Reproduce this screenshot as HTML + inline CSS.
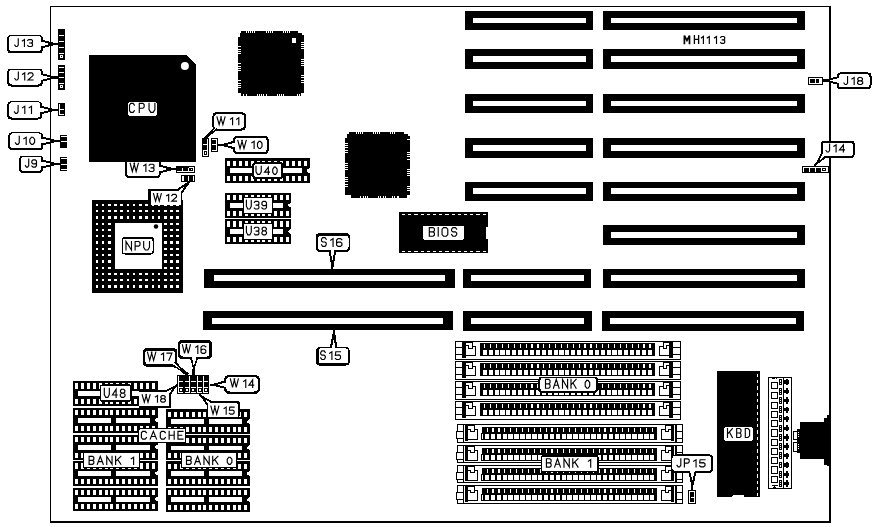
<!DOCTYPE html>
<html><head><meta charset="utf-8"><title>MH1113</title>
<style>html,body{margin:0;padding:0;background:#fff;}svg{display:block;}</style></head>
<body>
<svg width="878" height="527" viewBox="0 0 878 527" shape-rendering="crispEdges">
<rect x="0.00" y="0.00" width="878.00" height="527.00" fill="#fff" />
<rect x="50.00" y="6.00" width="781.00" height="1.00" fill="#000" />
<rect x="50.00" y="6.00" width="1.00" height="517.00" fill="#000" />
<rect x="829.00" y="6.00" width="2.00" height="517.00" fill="#000" />
<rect x="50.00" y="521.00" width="781.00" height="2.00" fill="#000" />
<rect x="465.00" y="11.00" width="128.00" height="19.00" fill="#000" />
<rect x="473.00" y="18.00" width="113.00" height="5.00" fill="#fff" />
<rect x="602.50" y="11.00" width="202.00" height="19.00" fill="#000" />
<rect x="610.50" y="18.00" width="186.50" height="5.00" fill="#fff" />
<rect x="465.00" y="49.00" width="128.00" height="19.50" fill="#000" />
<rect x="473.00" y="55.50" width="113.00" height="6.50" fill="#fff" />
<rect x="602.50" y="49.00" width="202.00" height="19.50" fill="#000" />
<rect x="610.50" y="55.50" width="186.50" height="6.50" fill="#fff" />
<rect x="465.00" y="94.00" width="128.00" height="18.50" fill="#000" />
<rect x="473.00" y="100.50" width="113.00" height="5.50" fill="#fff" />
<rect x="602.50" y="94.00" width="202.00" height="18.50" fill="#000" />
<rect x="610.50" y="100.50" width="186.50" height="5.50" fill="#fff" />
<rect x="465.00" y="138.00" width="128.00" height="19.50" fill="#000" />
<rect x="473.00" y="145.00" width="113.00" height="6.00" fill="#fff" />
<rect x="602.50" y="138.00" width="202.00" height="19.50" fill="#000" />
<rect x="610.50" y="145.00" width="186.50" height="6.00" fill="#fff" />
<rect x="465.00" y="182.00" width="128.00" height="18.50" fill="#000" />
<rect x="473.00" y="188.00" width="113.00" height="6.00" fill="#fff" />
<rect x="602.50" y="182.00" width="202.00" height="18.50" fill="#000" />
<rect x="610.50" y="188.00" width="186.50" height="6.00" fill="#fff" />
<rect x="602.50" y="225.00" width="202.00" height="19.50" fill="#000" />
<rect x="610.50" y="231.50" width="186.50" height="6.00" fill="#fff" />
<rect x="204.00" y="269.00" width="251.00" height="18.50" fill="#000" />
<rect x="214.00" y="275.00" width="231.00" height="6.00" fill="#fff" />
<rect x="463.00" y="269.00" width="127.50" height="18.50" fill="#000" />
<rect x="471.00" y="275.00" width="112.50" height="6.00" fill="#fff" />
<rect x="602.50" y="269.00" width="202.00" height="18.50" fill="#000" />
<rect x="610.50" y="275.00" width="186.50" height="6.00" fill="#fff" />
<rect x="203.00" y="311.00" width="250.00" height="19.00" fill="#000" />
<rect x="212.00" y="318.00" width="231.00" height="6.00" fill="#fff" />
<rect x="463.00" y="311.00" width="128.50" height="20.00" fill="#000" />
<rect x="471.00" y="318.00" width="112.50" height="6.00" fill="#fff" />
<rect x="601.50" y="311.00" width="202.00" height="20.00" fill="#000" />
<rect x="609.50" y="318.00" width="186.50" height="6.00" fill="#fff" />
<rect x="125.20" y="158.00" width="35.50" height="20.20" rx="4" ry="4" fill="#000"/>
<polygon points="158.00,173.30 160.00,173.30 172.38,170.05 176.50,170.05 176.50,167.95 172.38,167.95 160.00,164.70 158.00,164.70" fill="#000" />
<rect x="127.20" y="160.00" width="31.50" height="16.20" rx="2.5" ry="2.5" fill="#fff"/>
<polygon points="157.00,171.20 160.50,171.20 168.25,169.00 160.50,166.80 157.00,166.80" fill="#fff" />
<path d="M130.20 163.30 L132.36 171.50 L134.53 163.30 M133.99 163.30 L136.15 171.50 L138.31 163.30 M143.72 165.68 L145.89 164.22 L145.89 171.50 M149.13 165.13 L150.21 164.22 L152.92 164.22 L154.00 165.13 L154.00 166.95 L152.92 167.86 L151.08 167.86 M152.92 167.86 L154.00 168.77 L154.00 170.59 L152.92 171.50 L150.21 171.50 L149.13 170.59" fill="none" stroke="#000" stroke-width="1.15" stroke-linecap="square" stroke-linejoin="miter" shape-rendering="geometricPrecision"/>
<rect x="176.30" y="166.00" width="18.40" height="6.50" fill="#000" />
<rect x="177.00" y="170.60" width="17.20" height="1.00" fill="#fff" />
<rect x="181.80" y="167.50" width="1.00" height="3.50" fill="#fff" />
<rect x="188.00" y="167.50" width="1.00" height="3.50" fill="#fff" />
<rect x="189.00" y="167.30" width="5.20" height="1.00" fill="#fff" />
<rect x="193.20" y="167.30" width="1.00" height="4.30" fill="#fff" />
<rect x="190.70" y="169.00" width="1.20" height="1.10" fill="#fff" />
<rect x="181.00" y="175.00" width="14.00" height="7.00" fill="#000" />
<rect x="182.20" y="176.30" width="1.40" height="4.30" fill="#fff" />
<rect x="187.50" y="176.30" width="1.40" height="4.30" fill="#fff" />
<rect x="192.70" y="176.30" width="1.40" height="4.30" fill="#fff" />
<polygon points="89.00,55.00 186.00,55.00 195.50,64.50 195.50,161.50 89.00,161.50" fill="#000" />
<circle cx="184.9" cy="65.9" r="4" fill="#fff" shape-rendering="geometricPrecision"/>
<rect x="128" y="101.8" width="29" height="14" rx="2.5" fill="#fff"/>
<path d="M134.38 105.09 L133.16 103.40 L130.72 103.40 L129.50 105.09 L129.50 110.71 L130.72 112.40 L133.16 112.40 L134.38 110.71 M139.27 112.40 L139.27 103.40 L142.93 103.40 L144.15 104.53 L144.15 107.11 L142.93 108.24 L139.27 108.24 M149.04 103.40 L149.04 109.59 L150.75 112.40 L153.19 112.40 L154.90 109.59 L154.90 103.40" fill="none" stroke="#000" stroke-width="1.15" stroke-linecap="square" stroke-linejoin="miter" shape-rendering="geometricPrecision"/>
<polygon points="241.00,30.70 298.20,30.70 298.20,32.95 301.80,32.95 301.80,35.20 304.20,35.20 304.20,93.20 301.20,93.20 301.20,96.20 241.00,96.20 241.00,93.20 238.00,93.20 238.00,36.70 239.50,36.70 239.50,33.10 241.00,33.10" fill="#000" />
<rect x="245.55" y="30.70" width="1.00" height="2.00" fill="#fff" />
<rect x="247.77" y="30.70" width="1.00" height="2.00" fill="#fff" />
<rect x="249.99" y="30.70" width="1.00" height="2.00" fill="#fff" />
<rect x="252.21" y="30.70" width="1.00" height="2.00" fill="#fff" />
<rect x="254.43" y="30.70" width="1.00" height="2.00" fill="#fff" />
<rect x="265.82" y="30.70" width="1.00" height="2.00" fill="#fff" />
<rect x="268.19" y="30.70" width="1.00" height="2.00" fill="#fff" />
<rect x="270.26" y="30.70" width="1.00" height="2.00" fill="#fff" />
<rect x="272.18" y="30.70" width="1.00" height="2.00" fill="#fff" />
<rect x="282.54" y="30.70" width="1.00" height="2.00" fill="#fff" />
<rect x="284.75" y="30.70" width="1.00" height="2.00" fill="#fff" />
<rect x="286.97" y="30.70" width="1.00" height="2.00" fill="#fff" />
<rect x="289.19" y="30.70" width="1.00" height="2.00" fill="#fff" />
<rect x="243.33" y="94.20" width="1.00" height="2.00" fill="#fff" />
<rect x="245.55" y="94.20" width="1.00" height="2.00" fill="#fff" />
<rect x="256.65" y="94.20" width="1.00" height="2.00" fill="#fff" />
<rect x="258.87" y="94.20" width="1.00" height="2.00" fill="#fff" />
<rect x="261.09" y="94.20" width="1.00" height="2.00" fill="#fff" />
<rect x="263.30" y="94.20" width="1.00" height="2.00" fill="#fff" />
<rect x="265.82" y="94.20" width="1.00" height="2.00" fill="#fff" />
<rect x="276.62" y="94.20" width="1.00" height="2.00" fill="#fff" />
<rect x="278.84" y="94.20" width="1.00" height="2.00" fill="#fff" />
<rect x="281.06" y="94.20" width="1.00" height="2.00" fill="#fff" />
<rect x="283.28" y="94.20" width="1.00" height="2.00" fill="#fff" />
<rect x="296.59" y="94.20" width="1.00" height="2.00" fill="#fff" />
<rect x="298.81" y="94.20" width="1.00" height="2.00" fill="#fff" />
<rect x="238.00" y="46.43" width="3.00" height="1.00" fill="#fff" />
<rect x="238.00" y="48.65" width="3.00" height="1.00" fill="#fff" />
<rect x="238.00" y="50.87" width="3.00" height="1.00" fill="#fff" />
<rect x="238.00" y="53.09" width="3.00" height="1.00" fill="#fff" />
<rect x="238.00" y="63.44" width="3.00" height="1.00" fill="#fff" />
<rect x="238.00" y="65.66" width="3.00" height="1.00" fill="#fff" />
<rect x="238.00" y="67.88" width="3.00" height="1.00" fill="#fff" />
<rect x="238.00" y="70.10" width="3.00" height="1.00" fill="#fff" />
<rect x="238.00" y="80.45" width="3.00" height="1.00" fill="#fff" />
<rect x="238.00" y="82.67" width="3.00" height="1.00" fill="#fff" />
<rect x="238.00" y="84.89" width="3.00" height="1.00" fill="#fff" />
<rect x="238.00" y="87.11" width="3.00" height="1.00" fill="#fff" />
<rect x="301.20" y="41.99" width="3.00" height="1.00" fill="#fff" />
<rect x="301.20" y="44.21" width="3.00" height="1.00" fill="#fff" />
<rect x="301.20" y="46.43" width="3.00" height="1.00" fill="#fff" />
<rect x="301.20" y="47.91" width="3.00" height="1.00" fill="#fff" />
<rect x="301.20" y="59.00" width="3.00" height="1.00" fill="#fff" />
<rect x="301.20" y="61.22" width="3.00" height="1.00" fill="#fff" />
<rect x="301.20" y="63.44" width="3.00" height="1.00" fill="#fff" />
<rect x="301.20" y="64.92" width="3.00" height="1.00" fill="#fff" />
<rect x="301.20" y="75.28" width="3.00" height="1.00" fill="#fff" />
<rect x="301.20" y="77.49" width="3.00" height="1.00" fill="#fff" />
<rect x="301.20" y="79.71" width="3.00" height="1.00" fill="#fff" />
<rect x="301.20" y="81.93" width="3.00" height="1.00" fill="#fff" />
<rect x="292.00" y="38.00" width="4.00" height="4.50" fill="#fff" />
<rect x="292.70" y="42.50" width="2.30" height="0.80" fill="#fff" />
<polygon points="349.00,131.70 404.20,131.70 404.20,133.70 407.80,133.70 407.80,135.70 410.20,135.70 410.20,194.80 407.20,194.80 407.20,197.80 351.00,197.80 351.00,194.80 345.00,194.80 345.00,137.70 347.00,137.70 347.00,134.10 349.00,134.10" fill="#000" />
<rect x="355.99" y="131.70" width="1.00" height="2.00" fill="#fff" />
<rect x="358.21" y="131.70" width="1.00" height="2.00" fill="#fff" />
<rect x="360.43" y="131.70" width="1.00" height="2.00" fill="#fff" />
<rect x="361.91" y="131.70" width="1.00" height="2.00" fill="#fff" />
<rect x="373.00" y="131.70" width="1.00" height="2.00" fill="#fff" />
<rect x="375.22" y="131.70" width="1.00" height="2.00" fill="#fff" />
<rect x="377.44" y="131.70" width="1.00" height="2.00" fill="#fff" />
<rect x="378.92" y="131.70" width="1.00" height="2.00" fill="#fff" />
<rect x="390.01" y="131.70" width="1.00" height="2.00" fill="#fff" />
<rect x="392.23" y="131.70" width="1.00" height="2.00" fill="#fff" />
<rect x="393.71" y="131.70" width="1.00" height="2.00" fill="#fff" />
<rect x="360.43" y="195.80" width="1.00" height="2.00" fill="#fff" />
<rect x="362.65" y="195.80" width="1.00" height="2.00" fill="#fff" />
<rect x="364.87" y="195.80" width="1.00" height="2.00" fill="#fff" />
<rect x="367.09" y="195.80" width="1.00" height="2.00" fill="#fff" />
<rect x="378.18" y="195.80" width="1.00" height="2.00" fill="#fff" />
<rect x="380.40" y="195.80" width="1.00" height="2.00" fill="#fff" />
<rect x="382.62" y="195.80" width="1.00" height="2.00" fill="#fff" />
<rect x="384.54" y="195.80" width="1.00" height="2.00" fill="#fff" />
<rect x="392.23" y="195.80" width="1.00" height="2.00" fill="#fff" />
<rect x="394.45" y="195.80" width="1.00" height="2.00" fill="#fff" />
<rect x="396.67" y="195.80" width="1.00" height="2.00" fill="#fff" />
<rect x="398.15" y="195.80" width="1.00" height="2.00" fill="#fff" />
<rect x="345.00" y="142.99" width="3.00" height="1.00" fill="#fff" />
<rect x="345.00" y="145.21" width="3.00" height="1.00" fill="#fff" />
<rect x="345.00" y="147.43" width="3.00" height="1.00" fill="#fff" />
<rect x="345.00" y="149.65" width="3.00" height="1.00" fill="#fff" />
<rect x="345.00" y="151.87" width="3.00" height="1.00" fill="#fff" />
<rect x="345.00" y="162.96" width="3.00" height="1.00" fill="#fff" />
<rect x="345.00" y="165.18" width="3.00" height="1.00" fill="#fff" />
<rect x="345.00" y="167.40" width="3.00" height="1.00" fill="#fff" />
<rect x="345.00" y="168.88" width="3.00" height="1.00" fill="#fff" />
<rect x="345.00" y="177.01" width="3.00" height="1.00" fill="#fff" />
<rect x="345.00" y="179.23" width="3.00" height="1.00" fill="#fff" />
<rect x="345.00" y="181.45" width="3.00" height="1.00" fill="#fff" />
<rect x="345.00" y="183.67" width="3.00" height="1.00" fill="#fff" />
<rect x="345.00" y="185.89" width="3.00" height="1.00" fill="#fff" />
<rect x="407.20" y="138.55" width="3.00" height="1.00" fill="#fff" />
<rect x="407.20" y="151.87" width="3.00" height="1.00" fill="#fff" />
<rect x="407.20" y="154.09" width="3.00" height="1.00" fill="#fff" />
<rect x="407.20" y="156.30" width="3.00" height="1.00" fill="#fff" />
<rect x="407.20" y="158.52" width="3.00" height="1.00" fill="#fff" />
<rect x="407.20" y="168.88" width="3.00" height="1.00" fill="#fff" />
<rect x="407.20" y="171.10" width="3.00" height="1.00" fill="#fff" />
<rect x="407.20" y="173.32" width="3.00" height="1.00" fill="#fff" />
<rect x="407.20" y="174.80" width="3.00" height="1.00" fill="#fff" />
<rect x="407.20" y="185.89" width="3.00" height="1.00" fill="#fff" />
<rect x="407.20" y="188.11" width="3.00" height="1.00" fill="#fff" />
<rect x="407.20" y="190.33" width="3.00" height="1.00" fill="#fff" />
<rect x="399.00" y="212.00" width="89.00" height="41.00" fill="#000" />
<line x1="402" y1="214.5" x2="487" y2="214.5" stroke="#fff" stroke-width="1" stroke-dasharray="3.2 3"/>
<line x1="402" y1="251.5" x2="487" y2="251.5" stroke="#fff" stroke-width="1" stroke-dasharray="3.2 3"/>
<rect x="486.00" y="227.00" width="2.50" height="12.00" fill="#fff" />
<rect x="423" y="225.7" width="41" height="14.2" rx="2" fill="#fff"/>
<path d="M429.30 227.60 L429.30 236.20 M429.30 227.60 L433.12 227.60 L434.40 228.67 L434.40 230.82 L433.12 231.90 L429.30 231.90 M433.12 231.90 L434.40 232.97 L434.40 235.12 L433.12 236.20 L429.30 236.20 M438.22 227.60 L438.22 236.20 M443.57 227.60 L446.25 227.60 L447.78 229.21 L447.78 234.59 L446.25 236.20 L443.57 236.20 L442.04 234.59 L442.04 229.21 L443.57 227.60 M456.70 229.21 L455.43 227.60 L452.88 227.60 L451.60 229.21 L451.60 230.82 L452.88 231.90 L455.43 231.90 L456.70 232.97 L456.70 234.59 L455.43 236.20 L452.88 236.20 L451.60 234.59" fill="none" stroke="#000" stroke-width="1.15" stroke-linecap="square" stroke-linejoin="miter" shape-rendering="geometricPrecision"/>
<rect x="92.00" y="199.50" width="91.00" height="93.50" fill="#000" />
<rect x="95.50" y="203.80" width="2.60" height="2.30" fill="#fff" />
<rect x="95.50" y="210.07" width="2.60" height="2.30" fill="#fff" />
<rect x="95.50" y="216.34" width="2.60" height="2.30" fill="#fff" />
<rect x="95.50" y="222.61" width="2.60" height="2.30" fill="#fff" />
<rect x="95.50" y="228.88" width="2.60" height="2.30" fill="#fff" />
<rect x="95.50" y="235.15" width="2.60" height="2.30" fill="#fff" />
<rect x="95.50" y="241.42" width="2.60" height="2.30" fill="#fff" />
<rect x="95.50" y="247.69" width="2.60" height="2.30" fill="#fff" />
<rect x="95.50" y="253.96" width="2.60" height="2.30" fill="#fff" />
<rect x="95.50" y="260.23" width="2.60" height="2.30" fill="#fff" />
<rect x="95.50" y="266.50" width="2.60" height="2.30" fill="#fff" />
<rect x="95.50" y="272.77" width="2.60" height="2.30" fill="#fff" />
<rect x="95.50" y="279.04" width="2.60" height="2.30" fill="#fff" />
<rect x="95.50" y="285.31" width="2.60" height="2.30" fill="#fff" />
<rect x="101.73" y="203.80" width="2.60" height="2.30" fill="#fff" />
<rect x="101.73" y="210.07" width="2.60" height="2.30" fill="#fff" />
<rect x="101.73" y="216.34" width="2.60" height="2.30" fill="#fff" />
<rect x="101.73" y="222.61" width="2.60" height="2.30" fill="#fff" />
<rect x="101.73" y="228.88" width="2.60" height="2.30" fill="#fff" />
<rect x="101.73" y="235.15" width="2.60" height="2.30" fill="#fff" />
<rect x="101.73" y="241.42" width="2.60" height="2.30" fill="#fff" />
<rect x="101.73" y="247.69" width="2.60" height="2.30" fill="#fff" />
<rect x="101.73" y="253.96" width="2.60" height="2.30" fill="#fff" />
<rect x="101.73" y="260.23" width="2.60" height="2.30" fill="#fff" />
<rect x="101.73" y="266.50" width="2.60" height="2.30" fill="#fff" />
<rect x="101.73" y="272.77" width="2.60" height="2.30" fill="#fff" />
<rect x="101.73" y="279.04" width="2.60" height="2.30" fill="#fff" />
<rect x="101.73" y="285.31" width="2.60" height="2.30" fill="#fff" />
<rect x="107.96" y="203.80" width="2.60" height="2.30" fill="#fff" />
<rect x="107.96" y="210.07" width="2.60" height="2.30" fill="#fff" />
<rect x="107.96" y="216.34" width="2.60" height="2.30" fill="#fff" />
<rect x="107.96" y="222.61" width="2.60" height="2.30" fill="#fff" />
<rect x="107.96" y="228.88" width="2.60" height="2.30" fill="#fff" />
<rect x="107.96" y="235.15" width="2.60" height="2.30" fill="#fff" />
<rect x="107.96" y="241.42" width="2.60" height="2.30" fill="#fff" />
<rect x="107.96" y="247.69" width="2.60" height="2.30" fill="#fff" />
<rect x="107.96" y="253.96" width="2.60" height="2.30" fill="#fff" />
<rect x="107.96" y="260.23" width="2.60" height="2.30" fill="#fff" />
<rect x="107.96" y="266.50" width="2.60" height="2.30" fill="#fff" />
<rect x="107.96" y="272.77" width="2.60" height="2.30" fill="#fff" />
<rect x="107.96" y="279.04" width="2.60" height="2.30" fill="#fff" />
<rect x="107.96" y="285.31" width="2.60" height="2.30" fill="#fff" />
<rect x="114.19" y="203.80" width="2.60" height="2.30" fill="#fff" />
<rect x="114.19" y="210.07" width="2.60" height="2.30" fill="#fff" />
<rect x="114.19" y="216.34" width="2.60" height="2.30" fill="#fff" />
<rect x="114.19" y="272.77" width="2.60" height="2.30" fill="#fff" />
<rect x="114.19" y="279.04" width="2.60" height="2.30" fill="#fff" />
<rect x="114.19" y="285.31" width="2.60" height="2.30" fill="#fff" />
<rect x="120.42" y="203.80" width="2.60" height="2.30" fill="#fff" />
<rect x="120.42" y="210.07" width="2.60" height="2.30" fill="#fff" />
<rect x="120.42" y="216.34" width="2.60" height="2.30" fill="#fff" />
<rect x="120.42" y="272.77" width="2.60" height="2.30" fill="#fff" />
<rect x="120.42" y="279.04" width="2.60" height="2.30" fill="#fff" />
<rect x="120.42" y="285.31" width="2.60" height="2.30" fill="#fff" />
<rect x="126.65" y="203.80" width="2.60" height="2.30" fill="#fff" />
<rect x="126.65" y="210.07" width="2.60" height="2.30" fill="#fff" />
<rect x="126.65" y="216.34" width="2.60" height="2.30" fill="#fff" />
<rect x="126.65" y="272.77" width="2.60" height="2.30" fill="#fff" />
<rect x="126.65" y="279.04" width="2.60" height="2.30" fill="#fff" />
<rect x="126.65" y="285.31" width="2.60" height="2.30" fill="#fff" />
<rect x="132.88" y="203.80" width="2.60" height="2.30" fill="#fff" />
<rect x="132.88" y="210.07" width="2.60" height="2.30" fill="#fff" />
<rect x="132.88" y="216.34" width="2.60" height="2.30" fill="#fff" />
<rect x="132.88" y="272.77" width="2.60" height="2.30" fill="#fff" />
<rect x="132.88" y="279.04" width="2.60" height="2.30" fill="#fff" />
<rect x="132.88" y="285.31" width="2.60" height="2.30" fill="#fff" />
<rect x="139.11" y="203.80" width="2.60" height="2.30" fill="#fff" />
<rect x="139.11" y="210.07" width="2.60" height="2.30" fill="#fff" />
<rect x="139.11" y="216.34" width="2.60" height="2.30" fill="#fff" />
<rect x="139.11" y="272.77" width="2.60" height="2.30" fill="#fff" />
<rect x="139.11" y="279.04" width="2.60" height="2.30" fill="#fff" />
<rect x="139.11" y="285.31" width="2.60" height="2.30" fill="#fff" />
<rect x="145.34" y="203.80" width="2.60" height="2.30" fill="#fff" />
<rect x="145.34" y="210.07" width="2.60" height="2.30" fill="#fff" />
<rect x="145.34" y="216.34" width="2.60" height="2.30" fill="#fff" />
<rect x="145.34" y="272.77" width="2.60" height="2.30" fill="#fff" />
<rect x="145.34" y="279.04" width="2.60" height="2.30" fill="#fff" />
<rect x="145.34" y="285.31" width="2.60" height="2.30" fill="#fff" />
<rect x="151.57" y="203.80" width="2.60" height="2.30" fill="#fff" />
<rect x="151.57" y="210.07" width="2.60" height="2.30" fill="#fff" />
<rect x="151.57" y="216.34" width="2.60" height="2.30" fill="#fff" />
<rect x="151.57" y="272.77" width="2.60" height="2.30" fill="#fff" />
<rect x="151.57" y="279.04" width="2.60" height="2.30" fill="#fff" />
<rect x="151.57" y="285.31" width="2.60" height="2.30" fill="#fff" />
<rect x="157.80" y="203.80" width="2.60" height="2.30" fill="#fff" />
<rect x="157.80" y="210.07" width="2.60" height="2.30" fill="#fff" />
<rect x="157.80" y="216.34" width="2.60" height="2.30" fill="#fff" />
<rect x="157.80" y="272.77" width="2.60" height="2.30" fill="#fff" />
<rect x="157.80" y="279.04" width="2.60" height="2.30" fill="#fff" />
<rect x="157.80" y="285.31" width="2.60" height="2.30" fill="#fff" />
<rect x="164.03" y="203.80" width="2.60" height="2.30" fill="#fff" />
<rect x="164.03" y="210.07" width="2.60" height="2.30" fill="#fff" />
<rect x="164.03" y="216.34" width="2.60" height="2.30" fill="#fff" />
<rect x="164.03" y="222.61" width="2.60" height="2.30" fill="#fff" />
<rect x="164.03" y="228.88" width="2.60" height="2.30" fill="#fff" />
<rect x="164.03" y="235.15" width="2.60" height="2.30" fill="#fff" />
<rect x="164.03" y="241.42" width="2.60" height="2.30" fill="#fff" />
<rect x="164.03" y="247.69" width="2.60" height="2.30" fill="#fff" />
<rect x="164.03" y="253.96" width="2.60" height="2.30" fill="#fff" />
<rect x="164.03" y="260.23" width="2.60" height="2.30" fill="#fff" />
<rect x="164.03" y="266.50" width="2.60" height="2.30" fill="#fff" />
<rect x="164.03" y="272.77" width="2.60" height="2.30" fill="#fff" />
<rect x="164.03" y="279.04" width="2.60" height="2.30" fill="#fff" />
<rect x="164.03" y="285.31" width="2.60" height="2.30" fill="#fff" />
<rect x="170.26" y="203.80" width="2.60" height="2.30" fill="#fff" />
<rect x="170.26" y="210.07" width="2.60" height="2.30" fill="#fff" />
<rect x="170.26" y="216.34" width="2.60" height="2.30" fill="#fff" />
<rect x="170.26" y="222.61" width="2.60" height="2.30" fill="#fff" />
<rect x="170.26" y="228.88" width="2.60" height="2.30" fill="#fff" />
<rect x="170.26" y="235.15" width="2.60" height="2.30" fill="#fff" />
<rect x="170.26" y="241.42" width="2.60" height="2.30" fill="#fff" />
<rect x="170.26" y="247.69" width="2.60" height="2.30" fill="#fff" />
<rect x="170.26" y="253.96" width="2.60" height="2.30" fill="#fff" />
<rect x="170.26" y="260.23" width="2.60" height="2.30" fill="#fff" />
<rect x="170.26" y="266.50" width="2.60" height="2.30" fill="#fff" />
<rect x="170.26" y="272.77" width="2.60" height="2.30" fill="#fff" />
<rect x="170.26" y="279.04" width="2.60" height="2.30" fill="#fff" />
<rect x="170.26" y="285.31" width="2.60" height="2.30" fill="#fff" />
<rect x="176.49" y="203.80" width="2.60" height="2.30" fill="#fff" />
<rect x="176.49" y="210.07" width="2.60" height="2.30" fill="#fff" />
<rect x="176.49" y="216.34" width="2.60" height="2.30" fill="#fff" />
<rect x="176.49" y="222.61" width="2.60" height="2.30" fill="#fff" />
<rect x="176.49" y="228.88" width="2.60" height="2.30" fill="#fff" />
<rect x="176.49" y="235.15" width="2.60" height="2.30" fill="#fff" />
<rect x="176.49" y="241.42" width="2.60" height="2.30" fill="#fff" />
<rect x="176.49" y="247.69" width="2.60" height="2.30" fill="#fff" />
<rect x="176.49" y="253.96" width="2.60" height="2.30" fill="#fff" />
<rect x="176.49" y="260.23" width="2.60" height="2.30" fill="#fff" />
<rect x="176.49" y="266.50" width="2.60" height="2.30" fill="#fff" />
<rect x="176.49" y="272.77" width="2.60" height="2.30" fill="#fff" />
<rect x="176.49" y="279.04" width="2.60" height="2.30" fill="#fff" />
<rect x="176.49" y="285.31" width="2.60" height="2.30" fill="#fff" />
<rect x="114.50" y="222.50" width="47.00" height="46.50" fill="#fff" />
<circle cx="156" cy="226.5" r="2.2" fill="#000" shape-rendering="geometricPrecision"/>
<rect x="121.5" y="237" width="32.5" height="17.5" rx="3" fill="#000"/>
<rect x="123" y="238.5" width="29.5" height="14.5" rx="2" fill="#fff"/>
<path d="M126.00 250.00 L126.00 241.50 L131.48 250.00 L131.48 241.50 M135.13 250.00 L135.13 241.50 L138.78 241.50 L140.00 242.56 L140.00 245.01 L138.78 246.07 L135.13 246.07 M143.66 241.50 L143.66 247.34 L145.36 250.00 L147.80 250.00 L149.50 247.34 L149.50 241.50" fill="none" stroke="#000" stroke-width="1.15" stroke-linecap="square" stroke-linejoin="miter" shape-rendering="geometricPrecision"/>
<rect x="225.00" y="158.30" width="85.00" height="24.50" fill="#000" />
<rect x="227.20" y="160.60" width="3.00" height="5.20" fill="#fff" />
<rect x="227.20" y="176.00" width="3.00" height="5.20" fill="#fff" />
<rect x="233.07" y="160.60" width="3.00" height="5.20" fill="#fff" />
<rect x="233.07" y="176.00" width="3.00" height="5.20" fill="#fff" />
<rect x="238.94" y="160.60" width="3.00" height="5.20" fill="#fff" />
<rect x="238.94" y="176.00" width="3.00" height="5.20" fill="#fff" />
<rect x="244.81" y="160.60" width="3.00" height="5.20" fill="#fff" />
<rect x="244.81" y="176.00" width="3.00" height="5.20" fill="#fff" />
<rect x="250.68" y="160.60" width="3.00" height="5.20" fill="#fff" />
<rect x="250.68" y="176.00" width="3.00" height="5.20" fill="#fff" />
<rect x="256.55" y="160.60" width="3.00" height="5.20" fill="#fff" />
<rect x="256.55" y="176.00" width="3.00" height="5.20" fill="#fff" />
<rect x="262.42" y="160.60" width="3.00" height="5.20" fill="#fff" />
<rect x="262.42" y="176.00" width="3.00" height="5.20" fill="#fff" />
<rect x="268.29" y="160.60" width="3.00" height="5.20" fill="#fff" />
<rect x="268.29" y="176.00" width="3.00" height="5.20" fill="#fff" />
<rect x="274.16" y="160.60" width="3.00" height="5.20" fill="#fff" />
<rect x="274.16" y="176.00" width="3.00" height="5.20" fill="#fff" />
<rect x="280.03" y="160.60" width="3.00" height="5.20" fill="#fff" />
<rect x="280.03" y="176.00" width="3.00" height="5.20" fill="#fff" />
<rect x="285.90" y="160.60" width="3.00" height="5.20" fill="#fff" />
<rect x="285.90" y="176.00" width="3.00" height="5.20" fill="#fff" />
<rect x="291.77" y="160.60" width="3.00" height="5.20" fill="#fff" />
<rect x="291.77" y="176.00" width="3.00" height="5.20" fill="#fff" />
<rect x="297.64" y="160.60" width="3.00" height="5.20" fill="#fff" />
<rect x="297.64" y="176.00" width="3.00" height="5.20" fill="#fff" />
<rect x="303.51" y="160.60" width="3.00" height="5.20" fill="#fff" />
<rect x="303.51" y="176.00" width="3.00" height="5.20" fill="#fff" />
<rect x="230.00" y="168.35" width="72.00" height="4.80" fill="#fff" />
<polygon points="310.50,167.25 306.80,169.75 306.80,171.35 310.50,173.85" fill="#fff" />
<rect x="225.00" y="192.80" width="66.00" height="25.00" fill="#000" />
<rect x="227.20" y="195.10" width="3.00" height="5.20" fill="#fff" />
<rect x="227.20" y="211.00" width="3.00" height="5.20" fill="#fff" />
<rect x="233.07" y="195.10" width="3.00" height="5.20" fill="#fff" />
<rect x="233.07" y="211.00" width="3.00" height="5.20" fill="#fff" />
<rect x="238.94" y="195.10" width="3.00" height="5.20" fill="#fff" />
<rect x="238.94" y="211.00" width="3.00" height="5.20" fill="#fff" />
<rect x="244.81" y="195.10" width="3.00" height="5.20" fill="#fff" />
<rect x="244.81" y="211.00" width="3.00" height="5.20" fill="#fff" />
<rect x="250.68" y="195.10" width="3.00" height="5.20" fill="#fff" />
<rect x="250.68" y="211.00" width="3.00" height="5.20" fill="#fff" />
<rect x="256.55" y="195.10" width="3.00" height="5.20" fill="#fff" />
<rect x="256.55" y="211.00" width="3.00" height="5.20" fill="#fff" />
<rect x="262.42" y="195.10" width="3.00" height="5.20" fill="#fff" />
<rect x="262.42" y="211.00" width="3.00" height="5.20" fill="#fff" />
<rect x="268.29" y="195.10" width="3.00" height="5.20" fill="#fff" />
<rect x="268.29" y="211.00" width="3.00" height="5.20" fill="#fff" />
<rect x="274.16" y="195.10" width="3.00" height="5.20" fill="#fff" />
<rect x="274.16" y="211.00" width="3.00" height="5.20" fill="#fff" />
<rect x="280.03" y="195.10" width="3.00" height="5.20" fill="#fff" />
<rect x="280.03" y="211.00" width="3.00" height="5.20" fill="#fff" />
<rect x="285.90" y="195.10" width="3.00" height="5.20" fill="#fff" />
<rect x="285.90" y="211.00" width="3.00" height="5.20" fill="#fff" />
<rect x="230.00" y="203.10" width="53.00" height="4.80" fill="#fff" />
<polygon points="291.50,202.50 288.40,204.50 288.40,206.10 291.50,208.10" fill="#fff" />
<rect x="225.00" y="219.00" width="66.00" height="25.00" fill="#000" />
<rect x="227.20" y="221.30" width="3.00" height="5.20" fill="#fff" />
<rect x="227.20" y="237.20" width="3.00" height="5.20" fill="#fff" />
<rect x="233.07" y="221.30" width="3.00" height="5.20" fill="#fff" />
<rect x="233.07" y="237.20" width="3.00" height="5.20" fill="#fff" />
<rect x="238.94" y="221.30" width="3.00" height="5.20" fill="#fff" />
<rect x="238.94" y="237.20" width="3.00" height="5.20" fill="#fff" />
<rect x="244.81" y="221.30" width="3.00" height="5.20" fill="#fff" />
<rect x="244.81" y="237.20" width="3.00" height="5.20" fill="#fff" />
<rect x="250.68" y="221.30" width="3.00" height="5.20" fill="#fff" />
<rect x="250.68" y="237.20" width="3.00" height="5.20" fill="#fff" />
<rect x="256.55" y="221.30" width="3.00" height="5.20" fill="#fff" />
<rect x="256.55" y="237.20" width="3.00" height="5.20" fill="#fff" />
<rect x="262.42" y="221.30" width="3.00" height="5.20" fill="#fff" />
<rect x="262.42" y="237.20" width="3.00" height="5.20" fill="#fff" />
<rect x="268.29" y="221.30" width="3.00" height="5.20" fill="#fff" />
<rect x="268.29" y="237.20" width="3.00" height="5.20" fill="#fff" />
<rect x="274.16" y="221.30" width="3.00" height="5.20" fill="#fff" />
<rect x="274.16" y="237.20" width="3.00" height="5.20" fill="#fff" />
<rect x="280.03" y="221.30" width="3.00" height="5.20" fill="#fff" />
<rect x="280.03" y="237.20" width="3.00" height="5.20" fill="#fff" />
<rect x="285.90" y="221.30" width="3.00" height="5.20" fill="#fff" />
<rect x="285.90" y="237.20" width="3.00" height="5.20" fill="#fff" />
<rect x="230.00" y="229.30" width="53.00" height="4.80" fill="#fff" />
<polygon points="291.50,228.70 288.40,230.70 288.40,232.30 291.50,234.30" fill="#fff" />
<rect x="73.00" y="381.00" width="85.00" height="24.50" fill="#000" />
<rect x="75.20" y="383.30" width="3.00" height="5.20" fill="#fff" />
<rect x="75.20" y="398.70" width="3.00" height="5.20" fill="#fff" />
<rect x="81.07" y="383.30" width="3.00" height="5.20" fill="#fff" />
<rect x="81.07" y="398.70" width="3.00" height="5.20" fill="#fff" />
<rect x="86.94" y="383.30" width="3.00" height="5.20" fill="#fff" />
<rect x="86.94" y="398.70" width="3.00" height="5.20" fill="#fff" />
<rect x="92.81" y="383.30" width="3.00" height="5.20" fill="#fff" />
<rect x="92.81" y="398.70" width="3.00" height="5.20" fill="#fff" />
<rect x="98.68" y="383.30" width="3.00" height="5.20" fill="#fff" />
<rect x="98.68" y="398.70" width="3.00" height="5.20" fill="#fff" />
<rect x="104.55" y="383.30" width="3.00" height="5.20" fill="#fff" />
<rect x="104.55" y="398.70" width="3.00" height="5.20" fill="#fff" />
<rect x="110.42" y="383.30" width="3.00" height="5.20" fill="#fff" />
<rect x="110.42" y="398.70" width="3.00" height="5.20" fill="#fff" />
<rect x="116.29" y="383.30" width="3.00" height="5.20" fill="#fff" />
<rect x="116.29" y="398.70" width="3.00" height="5.20" fill="#fff" />
<rect x="122.16" y="383.30" width="3.00" height="5.20" fill="#fff" />
<rect x="122.16" y="398.70" width="3.00" height="5.20" fill="#fff" />
<rect x="128.03" y="383.30" width="3.00" height="5.20" fill="#fff" />
<rect x="128.03" y="398.70" width="3.00" height="5.20" fill="#fff" />
<rect x="133.90" y="383.30" width="3.00" height="5.20" fill="#fff" />
<rect x="133.90" y="398.70" width="3.00" height="5.20" fill="#fff" />
<rect x="139.77" y="383.30" width="3.00" height="5.20" fill="#fff" />
<rect x="139.77" y="398.70" width="3.00" height="5.20" fill="#fff" />
<rect x="145.64" y="383.30" width="3.00" height="5.20" fill="#fff" />
<rect x="145.64" y="398.70" width="3.00" height="5.20" fill="#fff" />
<rect x="151.51" y="383.30" width="3.00" height="5.20" fill="#fff" />
<rect x="151.51" y="398.70" width="3.00" height="5.20" fill="#fff" />
<rect x="78.00" y="391.05" width="72.00" height="4.80" fill="#fff" />
<rect x="73.00" y="407.60" width="85.00" height="24.90" fill="#000" />
<rect x="75.20" y="409.90" width="3.00" height="5.20" fill="#fff" />
<rect x="75.20" y="425.70" width="3.00" height="5.20" fill="#fff" />
<rect x="81.07" y="409.90" width="3.00" height="5.20" fill="#fff" />
<rect x="81.07" y="425.70" width="3.00" height="5.20" fill="#fff" />
<rect x="86.94" y="409.90" width="3.00" height="5.20" fill="#fff" />
<rect x="86.94" y="425.70" width="3.00" height="5.20" fill="#fff" />
<rect x="92.81" y="409.90" width="3.00" height="5.20" fill="#fff" />
<rect x="92.81" y="425.70" width="3.00" height="5.20" fill="#fff" />
<rect x="98.68" y="409.90" width="3.00" height="5.20" fill="#fff" />
<rect x="98.68" y="425.70" width="3.00" height="5.20" fill="#fff" />
<rect x="104.55" y="409.90" width="3.00" height="5.20" fill="#fff" />
<rect x="104.55" y="425.70" width="3.00" height="5.20" fill="#fff" />
<rect x="110.42" y="409.90" width="3.00" height="5.20" fill="#fff" />
<rect x="110.42" y="425.70" width="3.00" height="5.20" fill="#fff" />
<rect x="116.29" y="409.90" width="3.00" height="5.20" fill="#fff" />
<rect x="116.29" y="425.70" width="3.00" height="5.20" fill="#fff" />
<rect x="122.16" y="409.90" width="3.00" height="5.20" fill="#fff" />
<rect x="122.16" y="425.70" width="3.00" height="5.20" fill="#fff" />
<rect x="128.03" y="409.90" width="3.00" height="5.20" fill="#fff" />
<rect x="128.03" y="425.70" width="3.00" height="5.20" fill="#fff" />
<rect x="133.90" y="409.90" width="3.00" height="5.20" fill="#fff" />
<rect x="133.90" y="425.70" width="3.00" height="5.20" fill="#fff" />
<rect x="139.77" y="409.90" width="3.00" height="5.20" fill="#fff" />
<rect x="139.77" y="425.70" width="3.00" height="5.20" fill="#fff" />
<rect x="145.64" y="409.90" width="3.00" height="5.20" fill="#fff" />
<rect x="145.64" y="425.70" width="3.00" height="5.20" fill="#fff" />
<rect x="151.51" y="409.90" width="3.00" height="5.20" fill="#fff" />
<rect x="151.51" y="425.70" width="3.00" height="5.20" fill="#fff" />
<rect x="78.00" y="417.85" width="72.00" height="4.80" fill="#fff" />
<rect x="111.00" y="417.85" width="4.60" height="4.80" fill="#000" />
<polygon points="158.50,417.25 155.00,419.25 155.00,420.85 158.50,422.85" fill="#fff" />
<rect x="73.00" y="434.60" width="85.00" height="24.90" fill="#000" />
<rect x="75.20" y="436.90" width="3.00" height="5.20" fill="#fff" />
<rect x="75.20" y="452.70" width="3.00" height="5.20" fill="#fff" />
<rect x="81.07" y="436.90" width="3.00" height="5.20" fill="#fff" />
<rect x="81.07" y="452.70" width="3.00" height="5.20" fill="#fff" />
<rect x="86.94" y="436.90" width="3.00" height="5.20" fill="#fff" />
<rect x="86.94" y="452.70" width="3.00" height="5.20" fill="#fff" />
<rect x="92.81" y="436.90" width="3.00" height="5.20" fill="#fff" />
<rect x="92.81" y="452.70" width="3.00" height="5.20" fill="#fff" />
<rect x="98.68" y="436.90" width="3.00" height="5.20" fill="#fff" />
<rect x="98.68" y="452.70" width="3.00" height="5.20" fill="#fff" />
<rect x="104.55" y="436.90" width="3.00" height="5.20" fill="#fff" />
<rect x="104.55" y="452.70" width="3.00" height="5.20" fill="#fff" />
<rect x="110.42" y="436.90" width="3.00" height="5.20" fill="#fff" />
<rect x="110.42" y="452.70" width="3.00" height="5.20" fill="#fff" />
<rect x="116.29" y="436.90" width="3.00" height="5.20" fill="#fff" />
<rect x="116.29" y="452.70" width="3.00" height="5.20" fill="#fff" />
<rect x="122.16" y="436.90" width="3.00" height="5.20" fill="#fff" />
<rect x="122.16" y="452.70" width="3.00" height="5.20" fill="#fff" />
<rect x="128.03" y="436.90" width="3.00" height="5.20" fill="#fff" />
<rect x="128.03" y="452.70" width="3.00" height="5.20" fill="#fff" />
<rect x="133.90" y="436.90" width="3.00" height="5.20" fill="#fff" />
<rect x="133.90" y="452.70" width="3.00" height="5.20" fill="#fff" />
<rect x="139.77" y="436.90" width="3.00" height="5.20" fill="#fff" />
<rect x="139.77" y="452.70" width="3.00" height="5.20" fill="#fff" />
<rect x="145.64" y="436.90" width="3.00" height="5.20" fill="#fff" />
<rect x="145.64" y="452.70" width="3.00" height="5.20" fill="#fff" />
<rect x="151.51" y="436.90" width="3.00" height="5.20" fill="#fff" />
<rect x="151.51" y="452.70" width="3.00" height="5.20" fill="#fff" />
<rect x="78.00" y="444.85" width="72.00" height="4.80" fill="#fff" />
<rect x="111.00" y="444.85" width="4.60" height="4.80" fill="#000" />
<polygon points="158.50,444.25 155.00,446.25 155.00,447.85 158.50,449.85" fill="#fff" />
<rect x="73.00" y="461.00" width="85.00" height="24.50" fill="#000" />
<rect x="75.20" y="463.30" width="3.00" height="5.20" fill="#fff" />
<rect x="75.20" y="478.70" width="3.00" height="5.20" fill="#fff" />
<rect x="81.07" y="463.30" width="3.00" height="5.20" fill="#fff" />
<rect x="81.07" y="478.70" width="3.00" height="5.20" fill="#fff" />
<rect x="86.94" y="463.30" width="3.00" height="5.20" fill="#fff" />
<rect x="86.94" y="478.70" width="3.00" height="5.20" fill="#fff" />
<rect x="92.81" y="463.30" width="3.00" height="5.20" fill="#fff" />
<rect x="92.81" y="478.70" width="3.00" height="5.20" fill="#fff" />
<rect x="98.68" y="463.30" width="3.00" height="5.20" fill="#fff" />
<rect x="98.68" y="478.70" width="3.00" height="5.20" fill="#fff" />
<rect x="104.55" y="463.30" width="3.00" height="5.20" fill="#fff" />
<rect x="104.55" y="478.70" width="3.00" height="5.20" fill="#fff" />
<rect x="110.42" y="463.30" width="3.00" height="5.20" fill="#fff" />
<rect x="110.42" y="478.70" width="3.00" height="5.20" fill="#fff" />
<rect x="116.29" y="463.30" width="3.00" height="5.20" fill="#fff" />
<rect x="116.29" y="478.70" width="3.00" height="5.20" fill="#fff" />
<rect x="122.16" y="463.30" width="3.00" height="5.20" fill="#fff" />
<rect x="122.16" y="478.70" width="3.00" height="5.20" fill="#fff" />
<rect x="128.03" y="463.30" width="3.00" height="5.20" fill="#fff" />
<rect x="128.03" y="478.70" width="3.00" height="5.20" fill="#fff" />
<rect x="133.90" y="463.30" width="3.00" height="5.20" fill="#fff" />
<rect x="133.90" y="478.70" width="3.00" height="5.20" fill="#fff" />
<rect x="139.77" y="463.30" width="3.00" height="5.20" fill="#fff" />
<rect x="139.77" y="478.70" width="3.00" height="5.20" fill="#fff" />
<rect x="145.64" y="463.30" width="3.00" height="5.20" fill="#fff" />
<rect x="145.64" y="478.70" width="3.00" height="5.20" fill="#fff" />
<rect x="151.51" y="463.30" width="3.00" height="5.20" fill="#fff" />
<rect x="151.51" y="478.70" width="3.00" height="5.20" fill="#fff" />
<rect x="78.00" y="471.05" width="72.00" height="4.80" fill="#fff" />
<rect x="111.00" y="471.05" width="4.60" height="4.80" fill="#000" />
<polygon points="158.50,470.45 155.00,472.45 155.00,474.05 158.50,476.05" fill="#fff" />
<rect x="73.00" y="487.50" width="85.00" height="23.30" fill="#000" />
<rect x="75.20" y="489.80" width="3.00" height="5.20" fill="#fff" />
<rect x="75.20" y="504.00" width="3.00" height="5.20" fill="#fff" />
<rect x="81.07" y="489.80" width="3.00" height="5.20" fill="#fff" />
<rect x="81.07" y="504.00" width="3.00" height="5.20" fill="#fff" />
<rect x="86.94" y="489.80" width="3.00" height="5.20" fill="#fff" />
<rect x="86.94" y="504.00" width="3.00" height="5.20" fill="#fff" />
<rect x="92.81" y="489.80" width="3.00" height="5.20" fill="#fff" />
<rect x="92.81" y="504.00" width="3.00" height="5.20" fill="#fff" />
<rect x="98.68" y="489.80" width="3.00" height="5.20" fill="#fff" />
<rect x="98.68" y="504.00" width="3.00" height="5.20" fill="#fff" />
<rect x="104.55" y="489.80" width="3.00" height="5.20" fill="#fff" />
<rect x="104.55" y="504.00" width="3.00" height="5.20" fill="#fff" />
<rect x="110.42" y="489.80" width="3.00" height="5.20" fill="#fff" />
<rect x="110.42" y="504.00" width="3.00" height="5.20" fill="#fff" />
<rect x="116.29" y="489.80" width="3.00" height="5.20" fill="#fff" />
<rect x="116.29" y="504.00" width="3.00" height="5.20" fill="#fff" />
<rect x="122.16" y="489.80" width="3.00" height="5.20" fill="#fff" />
<rect x="122.16" y="504.00" width="3.00" height="5.20" fill="#fff" />
<rect x="128.03" y="489.80" width="3.00" height="5.20" fill="#fff" />
<rect x="128.03" y="504.00" width="3.00" height="5.20" fill="#fff" />
<rect x="133.90" y="489.80" width="3.00" height="5.20" fill="#fff" />
<rect x="133.90" y="504.00" width="3.00" height="5.20" fill="#fff" />
<rect x="139.77" y="489.80" width="3.00" height="5.20" fill="#fff" />
<rect x="139.77" y="504.00" width="3.00" height="5.20" fill="#fff" />
<rect x="145.64" y="489.80" width="3.00" height="5.20" fill="#fff" />
<rect x="145.64" y="504.00" width="3.00" height="5.20" fill="#fff" />
<rect x="151.51" y="489.80" width="3.00" height="5.20" fill="#fff" />
<rect x="151.51" y="504.00" width="3.00" height="5.20" fill="#fff" />
<rect x="78.00" y="496.95" width="72.00" height="4.80" fill="#fff" />
<rect x="111.00" y="496.95" width="4.60" height="4.80" fill="#000" />
<polygon points="158.50,496.35 155.00,498.35 155.00,499.95 158.50,501.95" fill="#fff" />
<rect x="166.00" y="409.30" width="84.00" height="24.60" fill="#000" />
<rect x="168.40" y="411.60" width="3.00" height="5.20" fill="#fff" />
<rect x="168.40" y="427.10" width="3.00" height="5.20" fill="#fff" />
<rect x="174.23" y="411.60" width="3.00" height="5.20" fill="#fff" />
<rect x="174.23" y="427.10" width="3.00" height="5.20" fill="#fff" />
<rect x="180.06" y="411.60" width="3.00" height="5.20" fill="#fff" />
<rect x="180.06" y="427.10" width="3.00" height="5.20" fill="#fff" />
<rect x="185.89" y="411.60" width="3.00" height="5.20" fill="#fff" />
<rect x="185.89" y="427.10" width="3.00" height="5.20" fill="#fff" />
<rect x="191.72" y="411.60" width="3.00" height="5.20" fill="#fff" />
<rect x="191.72" y="427.10" width="3.00" height="5.20" fill="#fff" />
<rect x="197.55" y="411.60" width="3.00" height="5.20" fill="#fff" />
<rect x="197.55" y="427.10" width="3.00" height="5.20" fill="#fff" />
<rect x="203.38" y="411.60" width="3.00" height="5.20" fill="#fff" />
<rect x="203.38" y="427.10" width="3.00" height="5.20" fill="#fff" />
<rect x="209.21" y="411.60" width="3.00" height="5.20" fill="#fff" />
<rect x="209.21" y="427.10" width="3.00" height="5.20" fill="#fff" />
<rect x="215.04" y="411.60" width="3.00" height="5.20" fill="#fff" />
<rect x="215.04" y="427.10" width="3.00" height="5.20" fill="#fff" />
<rect x="220.87" y="411.60" width="3.00" height="5.20" fill="#fff" />
<rect x="220.87" y="427.10" width="3.00" height="5.20" fill="#fff" />
<rect x="226.70" y="411.60" width="3.00" height="5.20" fill="#fff" />
<rect x="226.70" y="427.10" width="3.00" height="5.20" fill="#fff" />
<rect x="232.53" y="411.60" width="3.00" height="5.20" fill="#fff" />
<rect x="232.53" y="427.10" width="3.00" height="5.20" fill="#fff" />
<rect x="238.36" y="411.60" width="3.00" height="5.20" fill="#fff" />
<rect x="238.36" y="427.10" width="3.00" height="5.20" fill="#fff" />
<rect x="244.19" y="411.60" width="3.00" height="5.20" fill="#fff" />
<rect x="244.19" y="427.10" width="3.00" height="5.20" fill="#fff" />
<rect x="171.00" y="419.40" width="71.00" height="4.80" fill="#fff" />
<rect x="204.00" y="419.40" width="4.60" height="4.80" fill="#000" />
<polygon points="250.50,418.80 247.00,420.80 247.00,422.40 250.50,424.40" fill="#fff" />
<rect x="166.00" y="435.40" width="84.00" height="24.60" fill="#000" />
<rect x="168.40" y="437.70" width="3.00" height="5.20" fill="#fff" />
<rect x="168.40" y="453.20" width="3.00" height="5.20" fill="#fff" />
<rect x="174.23" y="437.70" width="3.00" height="5.20" fill="#fff" />
<rect x="174.23" y="453.20" width="3.00" height="5.20" fill="#fff" />
<rect x="180.06" y="437.70" width="3.00" height="5.20" fill="#fff" />
<rect x="180.06" y="453.20" width="3.00" height="5.20" fill="#fff" />
<rect x="185.89" y="437.70" width="3.00" height="5.20" fill="#fff" />
<rect x="185.89" y="453.20" width="3.00" height="5.20" fill="#fff" />
<rect x="191.72" y="437.70" width="3.00" height="5.20" fill="#fff" />
<rect x="191.72" y="453.20" width="3.00" height="5.20" fill="#fff" />
<rect x="197.55" y="437.70" width="3.00" height="5.20" fill="#fff" />
<rect x="197.55" y="453.20" width="3.00" height="5.20" fill="#fff" />
<rect x="203.38" y="437.70" width="3.00" height="5.20" fill="#fff" />
<rect x="203.38" y="453.20" width="3.00" height="5.20" fill="#fff" />
<rect x="209.21" y="437.70" width="3.00" height="5.20" fill="#fff" />
<rect x="209.21" y="453.20" width="3.00" height="5.20" fill="#fff" />
<rect x="215.04" y="437.70" width="3.00" height="5.20" fill="#fff" />
<rect x="215.04" y="453.20" width="3.00" height="5.20" fill="#fff" />
<rect x="220.87" y="437.70" width="3.00" height="5.20" fill="#fff" />
<rect x="220.87" y="453.20" width="3.00" height="5.20" fill="#fff" />
<rect x="226.70" y="437.70" width="3.00" height="5.20" fill="#fff" />
<rect x="226.70" y="453.20" width="3.00" height="5.20" fill="#fff" />
<rect x="232.53" y="437.70" width="3.00" height="5.20" fill="#fff" />
<rect x="232.53" y="453.20" width="3.00" height="5.20" fill="#fff" />
<rect x="238.36" y="437.70" width="3.00" height="5.20" fill="#fff" />
<rect x="238.36" y="453.20" width="3.00" height="5.20" fill="#fff" />
<rect x="244.19" y="437.70" width="3.00" height="5.20" fill="#fff" />
<rect x="244.19" y="453.20" width="3.00" height="5.20" fill="#fff" />
<rect x="171.00" y="445.50" width="71.00" height="4.80" fill="#fff" />
<rect x="204.00" y="445.50" width="4.60" height="4.80" fill="#000" />
<polygon points="250.50,444.90 247.00,446.90 247.00,448.50 250.50,450.50" fill="#fff" />
<rect x="166.00" y="461.40" width="84.00" height="24.10" fill="#000" />
<rect x="168.40" y="463.70" width="3.00" height="5.20" fill="#fff" />
<rect x="168.40" y="478.70" width="3.00" height="5.20" fill="#fff" />
<rect x="174.23" y="463.70" width="3.00" height="5.20" fill="#fff" />
<rect x="174.23" y="478.70" width="3.00" height="5.20" fill="#fff" />
<rect x="180.06" y="463.70" width="3.00" height="5.20" fill="#fff" />
<rect x="180.06" y="478.70" width="3.00" height="5.20" fill="#fff" />
<rect x="185.89" y="463.70" width="3.00" height="5.20" fill="#fff" />
<rect x="185.89" y="478.70" width="3.00" height="5.20" fill="#fff" />
<rect x="191.72" y="463.70" width="3.00" height="5.20" fill="#fff" />
<rect x="191.72" y="478.70" width="3.00" height="5.20" fill="#fff" />
<rect x="197.55" y="463.70" width="3.00" height="5.20" fill="#fff" />
<rect x="197.55" y="478.70" width="3.00" height="5.20" fill="#fff" />
<rect x="203.38" y="463.70" width="3.00" height="5.20" fill="#fff" />
<rect x="203.38" y="478.70" width="3.00" height="5.20" fill="#fff" />
<rect x="209.21" y="463.70" width="3.00" height="5.20" fill="#fff" />
<rect x="209.21" y="478.70" width="3.00" height="5.20" fill="#fff" />
<rect x="215.04" y="463.70" width="3.00" height="5.20" fill="#fff" />
<rect x="215.04" y="478.70" width="3.00" height="5.20" fill="#fff" />
<rect x="220.87" y="463.70" width="3.00" height="5.20" fill="#fff" />
<rect x="220.87" y="478.70" width="3.00" height="5.20" fill="#fff" />
<rect x="226.70" y="463.70" width="3.00" height="5.20" fill="#fff" />
<rect x="226.70" y="478.70" width="3.00" height="5.20" fill="#fff" />
<rect x="232.53" y="463.70" width="3.00" height="5.20" fill="#fff" />
<rect x="232.53" y="478.70" width="3.00" height="5.20" fill="#fff" />
<rect x="238.36" y="463.70" width="3.00" height="5.20" fill="#fff" />
<rect x="238.36" y="478.70" width="3.00" height="5.20" fill="#fff" />
<rect x="244.19" y="463.70" width="3.00" height="5.20" fill="#fff" />
<rect x="244.19" y="478.70" width="3.00" height="5.20" fill="#fff" />
<rect x="171.00" y="471.25" width="71.00" height="4.80" fill="#fff" />
<rect x="204.00" y="471.25" width="4.60" height="4.80" fill="#000" />
<polygon points="250.50,470.65 247.00,472.65 247.00,474.25 250.50,476.25" fill="#fff" />
<rect x="166.00" y="487.50" width="84.00" height="24.30" fill="#000" />
<rect x="168.40" y="489.80" width="3.00" height="5.20" fill="#fff" />
<rect x="168.40" y="505.00" width="3.00" height="5.20" fill="#fff" />
<rect x="174.23" y="489.80" width="3.00" height="5.20" fill="#fff" />
<rect x="174.23" y="505.00" width="3.00" height="5.20" fill="#fff" />
<rect x="180.06" y="489.80" width="3.00" height="5.20" fill="#fff" />
<rect x="180.06" y="505.00" width="3.00" height="5.20" fill="#fff" />
<rect x="185.89" y="489.80" width="3.00" height="5.20" fill="#fff" />
<rect x="185.89" y="505.00" width="3.00" height="5.20" fill="#fff" />
<rect x="191.72" y="489.80" width="3.00" height="5.20" fill="#fff" />
<rect x="191.72" y="505.00" width="3.00" height="5.20" fill="#fff" />
<rect x="197.55" y="489.80" width="3.00" height="5.20" fill="#fff" />
<rect x="197.55" y="505.00" width="3.00" height="5.20" fill="#fff" />
<rect x="203.38" y="489.80" width="3.00" height="5.20" fill="#fff" />
<rect x="203.38" y="505.00" width="3.00" height="5.20" fill="#fff" />
<rect x="209.21" y="489.80" width="3.00" height="5.20" fill="#fff" />
<rect x="209.21" y="505.00" width="3.00" height="5.20" fill="#fff" />
<rect x="215.04" y="489.80" width="3.00" height="5.20" fill="#fff" />
<rect x="215.04" y="505.00" width="3.00" height="5.20" fill="#fff" />
<rect x="220.87" y="489.80" width="3.00" height="5.20" fill="#fff" />
<rect x="220.87" y="505.00" width="3.00" height="5.20" fill="#fff" />
<rect x="226.70" y="489.80" width="3.00" height="5.20" fill="#fff" />
<rect x="226.70" y="505.00" width="3.00" height="5.20" fill="#fff" />
<rect x="232.53" y="489.80" width="3.00" height="5.20" fill="#fff" />
<rect x="232.53" y="505.00" width="3.00" height="5.20" fill="#fff" />
<rect x="238.36" y="489.80" width="3.00" height="5.20" fill="#fff" />
<rect x="238.36" y="505.00" width="3.00" height="5.20" fill="#fff" />
<rect x="244.19" y="489.80" width="3.00" height="5.20" fill="#fff" />
<rect x="244.19" y="505.00" width="3.00" height="5.20" fill="#fff" />
<rect x="171.00" y="497.45" width="71.00" height="4.80" fill="#fff" />
<rect x="204.00" y="497.45" width="4.60" height="4.80" fill="#000" />
<polygon points="250.50,496.85 247.00,498.85 247.00,500.45 250.50,502.45" fill="#fff" />
<rect x="455.50" y="341.50" width="225.00" height="18.00" fill="#fff" stroke="#000" stroke-width="1"/>
<rect x="455.00" y="347.00" width="7.00" height="1.00" fill="#000" />
<rect x="455.00" y="354.00" width="7.00" height="1.00" fill="#000" />
<rect x="462.00" y="341.00" width="4.00" height="16.50" fill="#000" />
<polyline points="466.00,345.50 468.50,345.50 468.50,348.00 472.00,348.00 472.00,343.50" fill="none" stroke="#000" stroke-width="1" />
<polyline points="472.00,346.00 475.50,346.00 475.50,355.50 466.00,355.50" fill="none" stroke="#000" stroke-width="1" />
<polyline points="466.00,342.50 472.00,342.50 472.00,346.00" fill="none" stroke="#000" stroke-width="1" />
<rect x="673.10" y="347.00" width="7.90" height="1.00" fill="#000" />
<rect x="673.10" y="354.00" width="7.90" height="1.00" fill="#000" />
<rect x="669.10" y="341.00" width="4.00" height="16.50" fill="#000" />
<polyline points="669.10,345.50 666.60,345.50 666.60,348.00 663.10,348.00 663.10,343.50" fill="none" stroke="#000" stroke-width="1" />
<polyline points="663.10,346.00 659.60,346.00 659.60,355.50 669.10,355.50" fill="none" stroke="#000" stroke-width="1" />
<polyline points="669.10,342.50 663.10,342.50 663.10,346.00" fill="none" stroke="#000" stroke-width="1" />
<rect x="480.00" y="343.00" width="175.00" height="13.00" fill="#000" />
<rect x="482.80" y="349.70" width="4.10" height="5.40" fill="#fff" />
<rect x="484.25" y="344.00" width="1.20" height="3.90" fill="#fff" />
<rect x="488.69" y="349.70" width="4.10" height="5.40" fill="#fff" />
<rect x="490.14" y="344.00" width="1.20" height="3.90" fill="#fff" />
<rect x="494.59" y="349.70" width="4.10" height="5.40" fill="#fff" />
<rect x="496.04" y="344.00" width="1.20" height="3.90" fill="#fff" />
<rect x="500.49" y="349.70" width="4.10" height="5.40" fill="#fff" />
<rect x="501.94" y="344.00" width="1.20" height="3.90" fill="#fff" />
<rect x="506.38" y="349.70" width="4.10" height="5.40" fill="#fff" />
<rect x="507.83" y="344.00" width="1.20" height="3.90" fill="#fff" />
<rect x="512.27" y="349.70" width="4.10" height="5.40" fill="#fff" />
<rect x="513.72" y="344.00" width="1.20" height="3.90" fill="#fff" />
<rect x="518.17" y="349.70" width="4.10" height="5.40" fill="#fff" />
<rect x="519.62" y="344.00" width="1.20" height="3.90" fill="#fff" />
<rect x="524.07" y="349.70" width="4.10" height="5.40" fill="#fff" />
<rect x="525.51" y="344.00" width="1.20" height="3.90" fill="#fff" />
<rect x="529.96" y="349.70" width="4.10" height="5.40" fill="#fff" />
<rect x="531.41" y="344.00" width="1.20" height="3.90" fill="#fff" />
<rect x="535.86" y="349.70" width="4.10" height="5.40" fill="#fff" />
<rect x="537.30" y="344.00" width="1.20" height="3.90" fill="#fff" />
<rect x="541.75" y="349.70" width="4.10" height="5.40" fill="#fff" />
<rect x="543.20" y="344.00" width="1.20" height="3.90" fill="#fff" />
<rect x="547.64" y="349.70" width="4.10" height="5.40" fill="#fff" />
<rect x="549.09" y="344.00" width="1.20" height="3.90" fill="#fff" />
<rect x="553.54" y="349.70" width="4.10" height="5.40" fill="#fff" />
<rect x="554.99" y="344.00" width="1.20" height="3.90" fill="#fff" />
<rect x="559.43" y="349.70" width="4.10" height="5.40" fill="#fff" />
<rect x="560.88" y="344.00" width="1.20" height="3.90" fill="#fff" />
<rect x="565.33" y="349.70" width="4.10" height="5.40" fill="#fff" />
<rect x="566.78" y="344.00" width="1.20" height="3.90" fill="#fff" />
<rect x="571.23" y="349.70" width="4.10" height="5.40" fill="#fff" />
<rect x="572.67" y="344.00" width="1.20" height="3.90" fill="#fff" />
<rect x="577.12" y="349.70" width="4.10" height="5.40" fill="#fff" />
<rect x="578.57" y="344.00" width="1.20" height="3.90" fill="#fff" />
<rect x="583.01" y="349.70" width="4.10" height="5.40" fill="#fff" />
<rect x="584.46" y="344.00" width="1.20" height="3.90" fill="#fff" />
<rect x="588.91" y="349.70" width="4.10" height="5.40" fill="#fff" />
<rect x="590.36" y="344.00" width="1.20" height="3.90" fill="#fff" />
<rect x="594.81" y="349.70" width="4.10" height="5.40" fill="#fff" />
<rect x="596.25" y="344.00" width="1.20" height="3.90" fill="#fff" />
<rect x="600.70" y="349.70" width="4.10" height="5.40" fill="#fff" />
<rect x="602.15" y="344.00" width="1.20" height="3.90" fill="#fff" />
<rect x="606.60" y="349.70" width="4.10" height="5.40" fill="#fff" />
<rect x="608.04" y="344.00" width="1.20" height="3.90" fill="#fff" />
<rect x="612.49" y="349.70" width="4.10" height="5.40" fill="#fff" />
<rect x="613.94" y="344.00" width="1.20" height="3.90" fill="#fff" />
<rect x="618.38" y="349.70" width="4.10" height="5.40" fill="#fff" />
<rect x="619.83" y="344.00" width="1.20" height="3.90" fill="#fff" />
<rect x="624.28" y="349.70" width="4.10" height="5.40" fill="#fff" />
<rect x="625.73" y="344.00" width="1.20" height="3.90" fill="#fff" />
<rect x="630.17" y="349.70" width="4.10" height="5.40" fill="#fff" />
<rect x="631.62" y="344.00" width="1.20" height="3.90" fill="#fff" />
<rect x="636.07" y="349.70" width="4.10" height="5.40" fill="#fff" />
<rect x="637.52" y="344.00" width="1.20" height="3.90" fill="#fff" />
<rect x="641.97" y="349.70" width="4.10" height="5.40" fill="#fff" />
<rect x="643.41" y="344.00" width="1.20" height="3.90" fill="#fff" />
<rect x="647.86" y="349.70" width="4.10" height="5.40" fill="#fff" />
<rect x="649.31" y="344.00" width="1.20" height="3.90" fill="#fff" />
<rect x="455.50" y="361.50" width="225.00" height="18.00" fill="#fff" stroke="#000" stroke-width="1"/>
<rect x="455.00" y="367.00" width="7.00" height="1.00" fill="#000" />
<rect x="455.00" y="374.00" width="7.00" height="1.00" fill="#000" />
<rect x="462.00" y="361.00" width="4.00" height="16.50" fill="#000" />
<polyline points="466.00,365.50 468.50,365.50 468.50,368.00 472.00,368.00 472.00,363.50" fill="none" stroke="#000" stroke-width="1" />
<polyline points="472.00,366.00 475.50,366.00 475.50,375.50 466.00,375.50" fill="none" stroke="#000" stroke-width="1" />
<polyline points="466.00,362.50 472.00,362.50 472.00,366.00" fill="none" stroke="#000" stroke-width="1" />
<rect x="673.10" y="367.00" width="7.90" height="1.00" fill="#000" />
<rect x="673.10" y="374.00" width="7.90" height="1.00" fill="#000" />
<rect x="669.10" y="361.00" width="4.00" height="16.50" fill="#000" />
<polyline points="669.10,365.50 666.60,365.50 666.60,368.00 663.10,368.00 663.10,363.50" fill="none" stroke="#000" stroke-width="1" />
<polyline points="663.10,366.00 659.60,366.00 659.60,375.50 669.10,375.50" fill="none" stroke="#000" stroke-width="1" />
<polyline points="669.10,362.50 663.10,362.50 663.10,366.00" fill="none" stroke="#000" stroke-width="1" />
<rect x="480.00" y="363.00" width="175.00" height="13.00" fill="#000" />
<rect x="482.80" y="369.70" width="4.10" height="5.40" fill="#fff" />
<rect x="484.25" y="364.00" width="1.20" height="3.90" fill="#fff" />
<rect x="488.69" y="369.70" width="4.10" height="5.40" fill="#fff" />
<rect x="490.14" y="364.00" width="1.20" height="3.90" fill="#fff" />
<rect x="494.59" y="369.70" width="4.10" height="5.40" fill="#fff" />
<rect x="496.04" y="364.00" width="1.20" height="3.90" fill="#fff" />
<rect x="500.49" y="369.70" width="4.10" height="5.40" fill="#fff" />
<rect x="501.94" y="364.00" width="1.20" height="3.90" fill="#fff" />
<rect x="506.38" y="369.70" width="4.10" height="5.40" fill="#fff" />
<rect x="507.83" y="364.00" width="1.20" height="3.90" fill="#fff" />
<rect x="512.27" y="369.70" width="4.10" height="5.40" fill="#fff" />
<rect x="513.72" y="364.00" width="1.20" height="3.90" fill="#fff" />
<rect x="518.17" y="369.70" width="4.10" height="5.40" fill="#fff" />
<rect x="519.62" y="364.00" width="1.20" height="3.90" fill="#fff" />
<rect x="524.07" y="369.70" width="4.10" height="5.40" fill="#fff" />
<rect x="525.51" y="364.00" width="1.20" height="3.90" fill="#fff" />
<rect x="529.96" y="369.70" width="4.10" height="5.40" fill="#fff" />
<rect x="531.41" y="364.00" width="1.20" height="3.90" fill="#fff" />
<rect x="535.86" y="369.70" width="4.10" height="5.40" fill="#fff" />
<rect x="537.30" y="364.00" width="1.20" height="3.90" fill="#fff" />
<rect x="541.75" y="369.70" width="4.10" height="5.40" fill="#fff" />
<rect x="543.20" y="364.00" width="1.20" height="3.90" fill="#fff" />
<rect x="547.64" y="369.70" width="4.10" height="5.40" fill="#fff" />
<rect x="549.09" y="364.00" width="1.20" height="3.90" fill="#fff" />
<rect x="553.54" y="369.70" width="4.10" height="5.40" fill="#fff" />
<rect x="554.99" y="364.00" width="1.20" height="3.90" fill="#fff" />
<rect x="559.43" y="369.70" width="4.10" height="5.40" fill="#fff" />
<rect x="560.88" y="364.00" width="1.20" height="3.90" fill="#fff" />
<rect x="565.33" y="369.70" width="4.10" height="5.40" fill="#fff" />
<rect x="566.78" y="364.00" width="1.20" height="3.90" fill="#fff" />
<rect x="571.23" y="369.70" width="4.10" height="5.40" fill="#fff" />
<rect x="572.67" y="364.00" width="1.20" height="3.90" fill="#fff" />
<rect x="577.12" y="369.70" width="4.10" height="5.40" fill="#fff" />
<rect x="578.57" y="364.00" width="1.20" height="3.90" fill="#fff" />
<rect x="583.01" y="369.70" width="4.10" height="5.40" fill="#fff" />
<rect x="584.46" y="364.00" width="1.20" height="3.90" fill="#fff" />
<rect x="588.91" y="369.70" width="4.10" height="5.40" fill="#fff" />
<rect x="590.36" y="364.00" width="1.20" height="3.90" fill="#fff" />
<rect x="594.81" y="369.70" width="4.10" height="5.40" fill="#fff" />
<rect x="596.25" y="364.00" width="1.20" height="3.90" fill="#fff" />
<rect x="600.70" y="369.70" width="4.10" height="5.40" fill="#fff" />
<rect x="602.15" y="364.00" width="1.20" height="3.90" fill="#fff" />
<rect x="606.60" y="369.70" width="4.10" height="5.40" fill="#fff" />
<rect x="608.04" y="364.00" width="1.20" height="3.90" fill="#fff" />
<rect x="612.49" y="369.70" width="4.10" height="5.40" fill="#fff" />
<rect x="613.94" y="364.00" width="1.20" height="3.90" fill="#fff" />
<rect x="618.38" y="369.70" width="4.10" height="5.40" fill="#fff" />
<rect x="619.83" y="364.00" width="1.20" height="3.90" fill="#fff" />
<rect x="624.28" y="369.70" width="4.10" height="5.40" fill="#fff" />
<rect x="625.73" y="364.00" width="1.20" height="3.90" fill="#fff" />
<rect x="630.17" y="369.70" width="4.10" height="5.40" fill="#fff" />
<rect x="631.62" y="364.00" width="1.20" height="3.90" fill="#fff" />
<rect x="636.07" y="369.70" width="4.10" height="5.40" fill="#fff" />
<rect x="637.52" y="364.00" width="1.20" height="3.90" fill="#fff" />
<rect x="641.97" y="369.70" width="4.10" height="5.40" fill="#fff" />
<rect x="643.41" y="364.00" width="1.20" height="3.90" fill="#fff" />
<rect x="647.86" y="369.70" width="4.10" height="5.40" fill="#fff" />
<rect x="649.31" y="364.00" width="1.20" height="3.90" fill="#fff" />
<rect x="455.50" y="381.50" width="225.00" height="18.00" fill="#fff" stroke="#000" stroke-width="1"/>
<rect x="455.00" y="387.00" width="7.00" height="1.00" fill="#000" />
<rect x="455.00" y="394.00" width="7.00" height="1.00" fill="#000" />
<rect x="462.00" y="381.00" width="4.00" height="16.50" fill="#000" />
<polyline points="466.00,385.50 468.50,385.50 468.50,388.00 472.00,388.00 472.00,383.50" fill="none" stroke="#000" stroke-width="1" />
<polyline points="472.00,386.00 475.50,386.00 475.50,395.50 466.00,395.50" fill="none" stroke="#000" stroke-width="1" />
<polyline points="466.00,382.50 472.00,382.50 472.00,386.00" fill="none" stroke="#000" stroke-width="1" />
<rect x="673.10" y="387.00" width="7.90" height="1.00" fill="#000" />
<rect x="673.10" y="394.00" width="7.90" height="1.00" fill="#000" />
<rect x="669.10" y="381.00" width="4.00" height="16.50" fill="#000" />
<polyline points="669.10,385.50 666.60,385.50 666.60,388.00 663.10,388.00 663.10,383.50" fill="none" stroke="#000" stroke-width="1" />
<polyline points="663.10,386.00 659.60,386.00 659.60,395.50 669.10,395.50" fill="none" stroke="#000" stroke-width="1" />
<polyline points="669.10,382.50 663.10,382.50 663.10,386.00" fill="none" stroke="#000" stroke-width="1" />
<rect x="480.00" y="383.00" width="175.00" height="13.00" fill="#000" />
<rect x="482.80" y="389.70" width="4.10" height="5.40" fill="#fff" />
<rect x="484.25" y="384.00" width="1.20" height="3.90" fill="#fff" />
<rect x="488.69" y="389.70" width="4.10" height="5.40" fill="#fff" />
<rect x="490.14" y="384.00" width="1.20" height="3.90" fill="#fff" />
<rect x="494.59" y="389.70" width="4.10" height="5.40" fill="#fff" />
<rect x="496.04" y="384.00" width="1.20" height="3.90" fill="#fff" />
<rect x="500.49" y="389.70" width="4.10" height="5.40" fill="#fff" />
<rect x="501.94" y="384.00" width="1.20" height="3.90" fill="#fff" />
<rect x="506.38" y="389.70" width="4.10" height="5.40" fill="#fff" />
<rect x="507.83" y="384.00" width="1.20" height="3.90" fill="#fff" />
<rect x="512.27" y="389.70" width="4.10" height="5.40" fill="#fff" />
<rect x="513.72" y="384.00" width="1.20" height="3.90" fill="#fff" />
<rect x="518.17" y="389.70" width="4.10" height="5.40" fill="#fff" />
<rect x="519.62" y="384.00" width="1.20" height="3.90" fill="#fff" />
<rect x="524.07" y="389.70" width="4.10" height="5.40" fill="#fff" />
<rect x="525.51" y="384.00" width="1.20" height="3.90" fill="#fff" />
<rect x="529.96" y="389.70" width="4.10" height="5.40" fill="#fff" />
<rect x="531.41" y="384.00" width="1.20" height="3.90" fill="#fff" />
<rect x="535.86" y="389.70" width="4.10" height="5.40" fill="#fff" />
<rect x="537.30" y="384.00" width="1.20" height="3.90" fill="#fff" />
<rect x="541.75" y="389.70" width="4.10" height="5.40" fill="#fff" />
<rect x="543.20" y="384.00" width="1.20" height="3.90" fill="#fff" />
<rect x="547.64" y="389.70" width="4.10" height="5.40" fill="#fff" />
<rect x="549.09" y="384.00" width="1.20" height="3.90" fill="#fff" />
<rect x="553.54" y="389.70" width="4.10" height="5.40" fill="#fff" />
<rect x="554.99" y="384.00" width="1.20" height="3.90" fill="#fff" />
<rect x="559.43" y="389.70" width="4.10" height="5.40" fill="#fff" />
<rect x="560.88" y="384.00" width="1.20" height="3.90" fill="#fff" />
<rect x="565.33" y="389.70" width="4.10" height="5.40" fill="#fff" />
<rect x="566.78" y="384.00" width="1.20" height="3.90" fill="#fff" />
<rect x="571.23" y="389.70" width="4.10" height="5.40" fill="#fff" />
<rect x="572.67" y="384.00" width="1.20" height="3.90" fill="#fff" />
<rect x="577.12" y="389.70" width="4.10" height="5.40" fill="#fff" />
<rect x="578.57" y="384.00" width="1.20" height="3.90" fill="#fff" />
<rect x="583.01" y="389.70" width="4.10" height="5.40" fill="#fff" />
<rect x="584.46" y="384.00" width="1.20" height="3.90" fill="#fff" />
<rect x="588.91" y="389.70" width="4.10" height="5.40" fill="#fff" />
<rect x="590.36" y="384.00" width="1.20" height="3.90" fill="#fff" />
<rect x="594.81" y="389.70" width="4.10" height="5.40" fill="#fff" />
<rect x="596.25" y="384.00" width="1.20" height="3.90" fill="#fff" />
<rect x="600.70" y="389.70" width="4.10" height="5.40" fill="#fff" />
<rect x="602.15" y="384.00" width="1.20" height="3.90" fill="#fff" />
<rect x="606.60" y="389.70" width="4.10" height="5.40" fill="#fff" />
<rect x="608.04" y="384.00" width="1.20" height="3.90" fill="#fff" />
<rect x="612.49" y="389.70" width="4.10" height="5.40" fill="#fff" />
<rect x="613.94" y="384.00" width="1.20" height="3.90" fill="#fff" />
<rect x="618.38" y="389.70" width="4.10" height="5.40" fill="#fff" />
<rect x="619.83" y="384.00" width="1.20" height="3.90" fill="#fff" />
<rect x="624.28" y="389.70" width="4.10" height="5.40" fill="#fff" />
<rect x="625.73" y="384.00" width="1.20" height="3.90" fill="#fff" />
<rect x="630.17" y="389.70" width="4.10" height="5.40" fill="#fff" />
<rect x="631.62" y="384.00" width="1.20" height="3.90" fill="#fff" />
<rect x="636.07" y="389.70" width="4.10" height="5.40" fill="#fff" />
<rect x="637.52" y="384.00" width="1.20" height="3.90" fill="#fff" />
<rect x="641.97" y="389.70" width="4.10" height="5.40" fill="#fff" />
<rect x="643.41" y="384.00" width="1.20" height="3.90" fill="#fff" />
<rect x="647.86" y="389.70" width="4.10" height="5.40" fill="#fff" />
<rect x="649.31" y="384.00" width="1.20" height="3.90" fill="#fff" />
<rect x="455.50" y="401.50" width="225.00" height="18.00" fill="#fff" stroke="#000" stroke-width="1"/>
<rect x="455.00" y="407.00" width="7.00" height="1.00" fill="#000" />
<rect x="455.00" y="414.00" width="7.00" height="1.00" fill="#000" />
<rect x="462.00" y="401.00" width="4.00" height="16.50" fill="#000" />
<polyline points="466.00,405.50 468.50,405.50 468.50,408.00 472.00,408.00 472.00,403.50" fill="none" stroke="#000" stroke-width="1" />
<polyline points="472.00,406.00 475.50,406.00 475.50,415.50 466.00,415.50" fill="none" stroke="#000" stroke-width="1" />
<polyline points="466.00,402.50 472.00,402.50 472.00,406.00" fill="none" stroke="#000" stroke-width="1" />
<rect x="673.10" y="407.00" width="7.90" height="1.00" fill="#000" />
<rect x="673.10" y="414.00" width="7.90" height="1.00" fill="#000" />
<rect x="669.10" y="401.00" width="4.00" height="16.50" fill="#000" />
<polyline points="669.10,405.50 666.60,405.50 666.60,408.00 663.10,408.00 663.10,403.50" fill="none" stroke="#000" stroke-width="1" />
<polyline points="663.10,406.00 659.60,406.00 659.60,415.50 669.10,415.50" fill="none" stroke="#000" stroke-width="1" />
<polyline points="669.10,402.50 663.10,402.50 663.10,406.00" fill="none" stroke="#000" stroke-width="1" />
<rect x="480.00" y="403.00" width="175.00" height="13.00" fill="#000" />
<rect x="482.80" y="409.70" width="4.10" height="5.40" fill="#fff" />
<rect x="484.25" y="404.00" width="1.20" height="3.90" fill="#fff" />
<rect x="488.69" y="409.70" width="4.10" height="5.40" fill="#fff" />
<rect x="490.14" y="404.00" width="1.20" height="3.90" fill="#fff" />
<rect x="494.59" y="409.70" width="4.10" height="5.40" fill="#fff" />
<rect x="496.04" y="404.00" width="1.20" height="3.90" fill="#fff" />
<rect x="500.49" y="409.70" width="4.10" height="5.40" fill="#fff" />
<rect x="501.94" y="404.00" width="1.20" height="3.90" fill="#fff" />
<rect x="506.38" y="409.70" width="4.10" height="5.40" fill="#fff" />
<rect x="507.83" y="404.00" width="1.20" height="3.90" fill="#fff" />
<rect x="512.27" y="409.70" width="4.10" height="5.40" fill="#fff" />
<rect x="513.72" y="404.00" width="1.20" height="3.90" fill="#fff" />
<rect x="518.17" y="409.70" width="4.10" height="5.40" fill="#fff" />
<rect x="519.62" y="404.00" width="1.20" height="3.90" fill="#fff" />
<rect x="524.07" y="409.70" width="4.10" height="5.40" fill="#fff" />
<rect x="525.51" y="404.00" width="1.20" height="3.90" fill="#fff" />
<rect x="529.96" y="409.70" width="4.10" height="5.40" fill="#fff" />
<rect x="531.41" y="404.00" width="1.20" height="3.90" fill="#fff" />
<rect x="535.86" y="409.70" width="4.10" height="5.40" fill="#fff" />
<rect x="537.30" y="404.00" width="1.20" height="3.90" fill="#fff" />
<rect x="541.75" y="409.70" width="4.10" height="5.40" fill="#fff" />
<rect x="543.20" y="404.00" width="1.20" height="3.90" fill="#fff" />
<rect x="547.64" y="409.70" width="4.10" height="5.40" fill="#fff" />
<rect x="549.09" y="404.00" width="1.20" height="3.90" fill="#fff" />
<rect x="553.54" y="409.70" width="4.10" height="5.40" fill="#fff" />
<rect x="554.99" y="404.00" width="1.20" height="3.90" fill="#fff" />
<rect x="559.43" y="409.70" width="4.10" height="5.40" fill="#fff" />
<rect x="560.88" y="404.00" width="1.20" height="3.90" fill="#fff" />
<rect x="565.33" y="409.70" width="4.10" height="5.40" fill="#fff" />
<rect x="566.78" y="404.00" width="1.20" height="3.90" fill="#fff" />
<rect x="571.23" y="409.70" width="4.10" height="5.40" fill="#fff" />
<rect x="572.67" y="404.00" width="1.20" height="3.90" fill="#fff" />
<rect x="577.12" y="409.70" width="4.10" height="5.40" fill="#fff" />
<rect x="578.57" y="404.00" width="1.20" height="3.90" fill="#fff" />
<rect x="583.01" y="409.70" width="4.10" height="5.40" fill="#fff" />
<rect x="584.46" y="404.00" width="1.20" height="3.90" fill="#fff" />
<rect x="588.91" y="409.70" width="4.10" height="5.40" fill="#fff" />
<rect x="590.36" y="404.00" width="1.20" height="3.90" fill="#fff" />
<rect x="594.81" y="409.70" width="4.10" height="5.40" fill="#fff" />
<rect x="596.25" y="404.00" width="1.20" height="3.90" fill="#fff" />
<rect x="600.70" y="409.70" width="4.10" height="5.40" fill="#fff" />
<rect x="602.15" y="404.00" width="1.20" height="3.90" fill="#fff" />
<rect x="606.60" y="409.70" width="4.10" height="5.40" fill="#fff" />
<rect x="608.04" y="404.00" width="1.20" height="3.90" fill="#fff" />
<rect x="612.49" y="409.70" width="4.10" height="5.40" fill="#fff" />
<rect x="613.94" y="404.00" width="1.20" height="3.90" fill="#fff" />
<rect x="618.38" y="409.70" width="4.10" height="5.40" fill="#fff" />
<rect x="619.83" y="404.00" width="1.20" height="3.90" fill="#fff" />
<rect x="624.28" y="409.70" width="4.10" height="5.40" fill="#fff" />
<rect x="625.73" y="404.00" width="1.20" height="3.90" fill="#fff" />
<rect x="630.17" y="409.70" width="4.10" height="5.40" fill="#fff" />
<rect x="631.62" y="404.00" width="1.20" height="3.90" fill="#fff" />
<rect x="636.07" y="409.70" width="4.10" height="5.40" fill="#fff" />
<rect x="637.52" y="404.00" width="1.20" height="3.90" fill="#fff" />
<rect x="641.97" y="409.70" width="4.10" height="5.40" fill="#fff" />
<rect x="643.41" y="404.00" width="1.20" height="3.90" fill="#fff" />
<rect x="647.86" y="409.70" width="4.10" height="5.40" fill="#fff" />
<rect x="649.31" y="404.00" width="1.20" height="3.90" fill="#fff" />
<rect x="457.50" y="424.50" width="225.00" height="17.60" fill="#fff" stroke="#000" stroke-width="1"/>
<rect x="456.10" y="431.00" width="7.90" height="8.20" fill="#000" />
<rect x="457.10" y="432.00" width="6.10" height="6.20" fill="#fff" />
<rect x="457.00" y="431.00" width="7.00" height="1.00" fill="#000" />
<rect x="463.30" y="424.00" width="0.80" height="17.60" fill="#000" />
<rect x="465.00" y="424.00" width="2.80" height="16.60" fill="#000" />
<polyline points="468.00,429.40 470.50,429.40 470.50,431.90 474.00,431.90 474.00,427.40" fill="none" stroke="#000" stroke-width="1" />
<polyline points="474.00,429.90 477.50,429.90 477.50,439.40 468.00,439.40" fill="none" stroke="#000" stroke-width="1" />
<polyline points="468.00,425.50 474.00,425.50 474.00,429.90" fill="none" stroke="#000" stroke-width="1" />
<rect x="675.10" y="438.20" width="7.90" height="1.00" fill="#000" />
<rect x="675.10" y="431.00" width="7.90" height="1.00" fill="#000" />
<rect x="675.00" y="424.00" width="1.70" height="17.60" fill="#000" />
<rect x="671.30" y="424.00" width="2.80" height="16.60" fill="#000" />
<polyline points="671.10,429.40 668.60,429.40 668.60,431.90 665.10,431.90 665.10,427.40" fill="none" stroke="#000" stroke-width="1" />
<polyline points="665.10,429.90 661.60,429.90 661.60,439.40 671.10,439.40" fill="none" stroke="#000" stroke-width="1" />
<polyline points="671.10,425.50 665.10,425.50 665.10,429.90" fill="none" stroke="#000" stroke-width="1" />
<rect x="482.00" y="427.00" width="174.50" height="13.00" fill="#000" />
<rect x="481.00" y="433.00" width="1.00" height="7.00" fill="#000" />
<rect x="484.90" y="434.00" width="4.50" height="5.00" fill="#fff" />
<rect x="486.55" y="428.00" width="1.20" height="4.00" fill="#fff" />
<rect x="490.79" y="434.00" width="4.50" height="5.00" fill="#fff" />
<rect x="492.44" y="428.00" width="1.20" height="4.00" fill="#fff" />
<rect x="496.69" y="434.00" width="4.50" height="5.00" fill="#fff" />
<rect x="498.34" y="428.00" width="1.20" height="4.00" fill="#fff" />
<rect x="502.58" y="434.00" width="4.50" height="5.00" fill="#fff" />
<rect x="504.23" y="428.00" width="1.20" height="4.00" fill="#fff" />
<rect x="508.48" y="434.00" width="4.50" height="5.00" fill="#fff" />
<rect x="510.13" y="428.00" width="1.20" height="4.00" fill="#fff" />
<rect x="514.38" y="434.00" width="4.50" height="5.00" fill="#fff" />
<rect x="516.02" y="428.00" width="1.20" height="4.00" fill="#fff" />
<rect x="520.27" y="434.00" width="4.50" height="5.00" fill="#fff" />
<rect x="521.92" y="428.00" width="1.20" height="4.00" fill="#fff" />
<rect x="526.16" y="434.00" width="4.50" height="5.00" fill="#fff" />
<rect x="527.81" y="428.00" width="1.20" height="4.00" fill="#fff" />
<rect x="532.06" y="434.00" width="4.50" height="5.00" fill="#fff" />
<rect x="533.71" y="428.00" width="1.20" height="4.00" fill="#fff" />
<rect x="537.95" y="434.00" width="4.50" height="5.00" fill="#fff" />
<rect x="539.60" y="428.00" width="1.20" height="4.00" fill="#fff" />
<rect x="543.85" y="434.00" width="4.50" height="5.00" fill="#fff" />
<rect x="545.50" y="428.00" width="1.20" height="4.00" fill="#fff" />
<rect x="549.75" y="434.00" width="4.50" height="5.00" fill="#fff" />
<rect x="551.39" y="428.00" width="1.20" height="4.00" fill="#fff" />
<rect x="555.64" y="434.00" width="4.50" height="5.00" fill="#fff" />
<rect x="557.29" y="428.00" width="1.20" height="4.00" fill="#fff" />
<rect x="561.53" y="434.00" width="4.50" height="5.00" fill="#fff" />
<rect x="563.18" y="428.00" width="1.20" height="4.00" fill="#fff" />
<rect x="567.43" y="434.00" width="4.50" height="5.00" fill="#fff" />
<rect x="569.08" y="428.00" width="1.20" height="4.00" fill="#fff" />
<rect x="573.32" y="434.00" width="4.50" height="5.00" fill="#fff" />
<rect x="574.97" y="428.00" width="1.20" height="4.00" fill="#fff" />
<rect x="579.22" y="434.00" width="4.50" height="5.00" fill="#fff" />
<rect x="580.87" y="428.00" width="1.20" height="4.00" fill="#fff" />
<rect x="585.12" y="434.00" width="4.50" height="5.00" fill="#fff" />
<rect x="586.76" y="428.00" width="1.20" height="4.00" fill="#fff" />
<rect x="591.01" y="434.00" width="4.50" height="5.00" fill="#fff" />
<rect x="592.66" y="428.00" width="1.20" height="4.00" fill="#fff" />
<rect x="596.90" y="434.00" width="4.50" height="5.00" fill="#fff" />
<rect x="598.55" y="428.00" width="1.20" height="4.00" fill="#fff" />
<rect x="602.80" y="434.00" width="4.50" height="5.00" fill="#fff" />
<rect x="604.45" y="428.00" width="1.20" height="4.00" fill="#fff" />
<rect x="608.69" y="434.00" width="4.50" height="5.00" fill="#fff" />
<rect x="610.34" y="428.00" width="1.20" height="4.00" fill="#fff" />
<rect x="614.59" y="434.00" width="4.50" height="5.00" fill="#fff" />
<rect x="616.24" y="428.00" width="1.20" height="4.00" fill="#fff" />
<rect x="620.48" y="434.00" width="4.50" height="5.00" fill="#fff" />
<rect x="622.13" y="428.00" width="1.20" height="4.00" fill="#fff" />
<rect x="626.38" y="434.00" width="4.50" height="5.00" fill="#fff" />
<rect x="628.03" y="428.00" width="1.20" height="4.00" fill="#fff" />
<rect x="632.27" y="434.00" width="4.50" height="5.00" fill="#fff" />
<rect x="633.92" y="428.00" width="1.20" height="4.00" fill="#fff" />
<rect x="638.17" y="434.00" width="4.50" height="5.00" fill="#fff" />
<rect x="639.82" y="428.00" width="1.20" height="4.00" fill="#fff" />
<rect x="644.06" y="434.00" width="4.50" height="5.00" fill="#fff" />
<rect x="645.71" y="428.00" width="1.20" height="4.00" fill="#fff" />
<rect x="649.96" y="434.00" width="4.50" height="5.00" fill="#fff" />
<rect x="651.61" y="428.00" width="1.20" height="4.00" fill="#fff" />
<rect x="482.00" y="434.00" width="1.00" height="5.00" fill="#fff" />
<rect x="457.50" y="445.50" width="225.00" height="16.60" fill="#fff" stroke="#000" stroke-width="1"/>
<rect x="456.10" y="452.00" width="7.90" height="8.20" fill="#000" />
<rect x="457.10" y="453.00" width="6.10" height="6.20" fill="#fff" />
<rect x="457.00" y="452.00" width="7.00" height="1.00" fill="#000" />
<rect x="463.30" y="445.00" width="0.80" height="16.60" fill="#000" />
<rect x="465.00" y="445.00" width="2.80" height="15.60" fill="#000" />
<polyline points="468.00,450.40 470.50,450.40 470.50,452.90 474.00,452.90 474.00,448.40" fill="none" stroke="#000" stroke-width="1" />
<polyline points="474.00,450.90 477.50,450.90 477.50,460.40 468.00,460.40" fill="none" stroke="#000" stroke-width="1" />
<polyline points="468.00,446.50 474.00,446.50 474.00,450.90" fill="none" stroke="#000" stroke-width="1" />
<rect x="675.10" y="459.20" width="7.90" height="1.00" fill="#000" />
<rect x="675.10" y="452.00" width="7.90" height="1.00" fill="#000" />
<rect x="675.00" y="445.00" width="1.70" height="16.60" fill="#000" />
<rect x="671.30" y="445.00" width="2.80" height="15.60" fill="#000" />
<polyline points="671.10,450.40 668.60,450.40 668.60,452.90 665.10,452.90 665.10,448.40" fill="none" stroke="#000" stroke-width="1" />
<polyline points="665.10,450.90 661.60,450.90 661.60,460.40 671.10,460.40" fill="none" stroke="#000" stroke-width="1" />
<polyline points="671.10,446.50 665.10,446.50 665.10,450.90" fill="none" stroke="#000" stroke-width="1" />
<rect x="482.00" y="448.00" width="174.50" height="13.00" fill="#000" />
<rect x="481.00" y="454.00" width="1.00" height="7.00" fill="#000" />
<rect x="484.90" y="455.00" width="4.50" height="5.00" fill="#fff" />
<rect x="486.55" y="449.00" width="1.20" height="4.00" fill="#fff" />
<rect x="490.79" y="455.00" width="4.50" height="5.00" fill="#fff" />
<rect x="492.44" y="449.00" width="1.20" height="4.00" fill="#fff" />
<rect x="496.69" y="455.00" width="4.50" height="5.00" fill="#fff" />
<rect x="498.34" y="449.00" width="1.20" height="4.00" fill="#fff" />
<rect x="502.58" y="455.00" width="4.50" height="5.00" fill="#fff" />
<rect x="504.23" y="449.00" width="1.20" height="4.00" fill="#fff" />
<rect x="508.48" y="455.00" width="4.50" height="5.00" fill="#fff" />
<rect x="510.13" y="449.00" width="1.20" height="4.00" fill="#fff" />
<rect x="514.38" y="455.00" width="4.50" height="5.00" fill="#fff" />
<rect x="516.02" y="449.00" width="1.20" height="4.00" fill="#fff" />
<rect x="520.27" y="455.00" width="4.50" height="5.00" fill="#fff" />
<rect x="521.92" y="449.00" width="1.20" height="4.00" fill="#fff" />
<rect x="526.16" y="455.00" width="4.50" height="5.00" fill="#fff" />
<rect x="527.81" y="449.00" width="1.20" height="4.00" fill="#fff" />
<rect x="532.06" y="455.00" width="4.50" height="5.00" fill="#fff" />
<rect x="533.71" y="449.00" width="1.20" height="4.00" fill="#fff" />
<rect x="537.95" y="455.00" width="4.50" height="5.00" fill="#fff" />
<rect x="539.60" y="449.00" width="1.20" height="4.00" fill="#fff" />
<rect x="543.85" y="455.00" width="4.50" height="5.00" fill="#fff" />
<rect x="545.50" y="449.00" width="1.20" height="4.00" fill="#fff" />
<rect x="549.75" y="455.00" width="4.50" height="5.00" fill="#fff" />
<rect x="551.39" y="449.00" width="1.20" height="4.00" fill="#fff" />
<rect x="555.64" y="455.00" width="4.50" height="5.00" fill="#fff" />
<rect x="557.29" y="449.00" width="1.20" height="4.00" fill="#fff" />
<rect x="561.53" y="455.00" width="4.50" height="5.00" fill="#fff" />
<rect x="563.18" y="449.00" width="1.20" height="4.00" fill="#fff" />
<rect x="567.43" y="455.00" width="4.50" height="5.00" fill="#fff" />
<rect x="569.08" y="449.00" width="1.20" height="4.00" fill="#fff" />
<rect x="573.32" y="455.00" width="4.50" height="5.00" fill="#fff" />
<rect x="574.97" y="449.00" width="1.20" height="4.00" fill="#fff" />
<rect x="579.22" y="455.00" width="4.50" height="5.00" fill="#fff" />
<rect x="580.87" y="449.00" width="1.20" height="4.00" fill="#fff" />
<rect x="585.12" y="455.00" width="4.50" height="5.00" fill="#fff" />
<rect x="586.76" y="449.00" width="1.20" height="4.00" fill="#fff" />
<rect x="591.01" y="455.00" width="4.50" height="5.00" fill="#fff" />
<rect x="592.66" y="449.00" width="1.20" height="4.00" fill="#fff" />
<rect x="596.90" y="455.00" width="4.50" height="5.00" fill="#fff" />
<rect x="598.55" y="449.00" width="1.20" height="4.00" fill="#fff" />
<rect x="602.80" y="455.00" width="4.50" height="5.00" fill="#fff" />
<rect x="604.45" y="449.00" width="1.20" height="4.00" fill="#fff" />
<rect x="608.69" y="455.00" width="4.50" height="5.00" fill="#fff" />
<rect x="610.34" y="449.00" width="1.20" height="4.00" fill="#fff" />
<rect x="614.59" y="455.00" width="4.50" height="5.00" fill="#fff" />
<rect x="616.24" y="449.00" width="1.20" height="4.00" fill="#fff" />
<rect x="620.48" y="455.00" width="4.50" height="5.00" fill="#fff" />
<rect x="622.13" y="449.00" width="1.20" height="4.00" fill="#fff" />
<rect x="626.38" y="455.00" width="4.50" height="5.00" fill="#fff" />
<rect x="628.03" y="449.00" width="1.20" height="4.00" fill="#fff" />
<rect x="632.27" y="455.00" width="4.50" height="5.00" fill="#fff" />
<rect x="633.92" y="449.00" width="1.20" height="4.00" fill="#fff" />
<rect x="638.17" y="455.00" width="4.50" height="5.00" fill="#fff" />
<rect x="639.82" y="449.00" width="1.20" height="4.00" fill="#fff" />
<rect x="644.06" y="455.00" width="4.50" height="5.00" fill="#fff" />
<rect x="645.71" y="449.00" width="1.20" height="4.00" fill="#fff" />
<rect x="649.96" y="455.00" width="4.50" height="5.00" fill="#fff" />
<rect x="651.61" y="449.00" width="1.20" height="4.00" fill="#fff" />
<rect x="482.00" y="455.00" width="1.00" height="5.00" fill="#fff" />
<rect x="457.50" y="465.50" width="225.00" height="16.60" fill="#fff" stroke="#000" stroke-width="1"/>
<rect x="456.10" y="472.00" width="7.90" height="8.20" fill="#000" />
<rect x="457.10" y="473.00" width="6.10" height="6.20" fill="#fff" />
<rect x="457.00" y="472.00" width="7.00" height="1.00" fill="#000" />
<rect x="463.30" y="465.00" width="0.80" height="16.60" fill="#000" />
<rect x="465.00" y="465.00" width="2.80" height="15.60" fill="#000" />
<polyline points="468.00,470.40 470.50,470.40 470.50,472.90 474.00,472.90 474.00,468.40" fill="none" stroke="#000" stroke-width="1" />
<polyline points="474.00,470.90 477.50,470.90 477.50,480.40 468.00,480.40" fill="none" stroke="#000" stroke-width="1" />
<polyline points="468.00,466.50 474.00,466.50 474.00,470.90" fill="none" stroke="#000" stroke-width="1" />
<rect x="675.10" y="479.20" width="7.90" height="1.00" fill="#000" />
<rect x="675.10" y="472.00" width="7.90" height="1.00" fill="#000" />
<rect x="675.00" y="465.00" width="1.70" height="16.60" fill="#000" />
<rect x="671.30" y="465.00" width="2.80" height="15.60" fill="#000" />
<polyline points="671.10,470.40 668.60,470.40 668.60,472.90 665.10,472.90 665.10,468.40" fill="none" stroke="#000" stroke-width="1" />
<polyline points="665.10,470.90 661.60,470.90 661.60,480.40 671.10,480.40" fill="none" stroke="#000" stroke-width="1" />
<polyline points="671.10,466.50 665.10,466.50 665.10,470.90" fill="none" stroke="#000" stroke-width="1" />
<rect x="482.00" y="468.00" width="174.50" height="13.00" fill="#000" />
<rect x="481.00" y="474.00" width="1.00" height="7.00" fill="#000" />
<rect x="484.90" y="475.00" width="4.50" height="5.00" fill="#fff" />
<rect x="486.55" y="469.00" width="1.20" height="4.00" fill="#fff" />
<rect x="490.79" y="475.00" width="4.50" height="5.00" fill="#fff" />
<rect x="492.44" y="469.00" width="1.20" height="4.00" fill="#fff" />
<rect x="496.69" y="475.00" width="4.50" height="5.00" fill="#fff" />
<rect x="498.34" y="469.00" width="1.20" height="4.00" fill="#fff" />
<rect x="502.58" y="475.00" width="4.50" height="5.00" fill="#fff" />
<rect x="504.23" y="469.00" width="1.20" height="4.00" fill="#fff" />
<rect x="508.48" y="475.00" width="4.50" height="5.00" fill="#fff" />
<rect x="510.13" y="469.00" width="1.20" height="4.00" fill="#fff" />
<rect x="514.38" y="475.00" width="4.50" height="5.00" fill="#fff" />
<rect x="516.02" y="469.00" width="1.20" height="4.00" fill="#fff" />
<rect x="520.27" y="475.00" width="4.50" height="5.00" fill="#fff" />
<rect x="521.92" y="469.00" width="1.20" height="4.00" fill="#fff" />
<rect x="526.16" y="475.00" width="4.50" height="5.00" fill="#fff" />
<rect x="527.81" y="469.00" width="1.20" height="4.00" fill="#fff" />
<rect x="532.06" y="475.00" width="4.50" height="5.00" fill="#fff" />
<rect x="533.71" y="469.00" width="1.20" height="4.00" fill="#fff" />
<rect x="537.95" y="475.00" width="4.50" height="5.00" fill="#fff" />
<rect x="539.60" y="469.00" width="1.20" height="4.00" fill="#fff" />
<rect x="543.85" y="475.00" width="4.50" height="5.00" fill="#fff" />
<rect x="545.50" y="469.00" width="1.20" height="4.00" fill="#fff" />
<rect x="549.75" y="475.00" width="4.50" height="5.00" fill="#fff" />
<rect x="551.39" y="469.00" width="1.20" height="4.00" fill="#fff" />
<rect x="555.64" y="475.00" width="4.50" height="5.00" fill="#fff" />
<rect x="557.29" y="469.00" width="1.20" height="4.00" fill="#fff" />
<rect x="561.53" y="475.00" width="4.50" height="5.00" fill="#fff" />
<rect x="563.18" y="469.00" width="1.20" height="4.00" fill="#fff" />
<rect x="567.43" y="475.00" width="4.50" height="5.00" fill="#fff" />
<rect x="569.08" y="469.00" width="1.20" height="4.00" fill="#fff" />
<rect x="573.32" y="475.00" width="4.50" height="5.00" fill="#fff" />
<rect x="574.97" y="469.00" width="1.20" height="4.00" fill="#fff" />
<rect x="579.22" y="475.00" width="4.50" height="5.00" fill="#fff" />
<rect x="580.87" y="469.00" width="1.20" height="4.00" fill="#fff" />
<rect x="585.12" y="475.00" width="4.50" height="5.00" fill="#fff" />
<rect x="586.76" y="469.00" width="1.20" height="4.00" fill="#fff" />
<rect x="591.01" y="475.00" width="4.50" height="5.00" fill="#fff" />
<rect x="592.66" y="469.00" width="1.20" height="4.00" fill="#fff" />
<rect x="596.90" y="475.00" width="4.50" height="5.00" fill="#fff" />
<rect x="598.55" y="469.00" width="1.20" height="4.00" fill="#fff" />
<rect x="602.80" y="475.00" width="4.50" height="5.00" fill="#fff" />
<rect x="604.45" y="469.00" width="1.20" height="4.00" fill="#fff" />
<rect x="608.69" y="475.00" width="4.50" height="5.00" fill="#fff" />
<rect x="610.34" y="469.00" width="1.20" height="4.00" fill="#fff" />
<rect x="614.59" y="475.00" width="4.50" height="5.00" fill="#fff" />
<rect x="616.24" y="469.00" width="1.20" height="4.00" fill="#fff" />
<rect x="620.48" y="475.00" width="4.50" height="5.00" fill="#fff" />
<rect x="622.13" y="469.00" width="1.20" height="4.00" fill="#fff" />
<rect x="626.38" y="475.00" width="4.50" height="5.00" fill="#fff" />
<rect x="628.03" y="469.00" width="1.20" height="4.00" fill="#fff" />
<rect x="632.27" y="475.00" width="4.50" height="5.00" fill="#fff" />
<rect x="633.92" y="469.00" width="1.20" height="4.00" fill="#fff" />
<rect x="638.17" y="475.00" width="4.50" height="5.00" fill="#fff" />
<rect x="639.82" y="469.00" width="1.20" height="4.00" fill="#fff" />
<rect x="644.06" y="475.00" width="4.50" height="5.00" fill="#fff" />
<rect x="645.71" y="469.00" width="1.20" height="4.00" fill="#fff" />
<rect x="649.96" y="475.00" width="4.50" height="5.00" fill="#fff" />
<rect x="651.61" y="469.00" width="1.20" height="4.00" fill="#fff" />
<rect x="482.00" y="475.00" width="1.00" height="5.00" fill="#fff" />
<rect x="457.50" y="485.50" width="225.00" height="17.80" fill="#fff" stroke="#000" stroke-width="1"/>
<rect x="456.10" y="492.00" width="7.90" height="8.20" fill="#000" />
<rect x="457.10" y="493.00" width="6.10" height="6.20" fill="#fff" />
<rect x="457.00" y="492.00" width="7.00" height="1.00" fill="#000" />
<rect x="463.30" y="485.00" width="0.80" height="17.80" fill="#000" />
<rect x="465.00" y="485.00" width="2.80" height="16.80" fill="#000" />
<polyline points="468.00,490.40 470.50,490.40 470.50,492.90 474.00,492.90 474.00,488.40" fill="none" stroke="#000" stroke-width="1" />
<polyline points="474.00,490.90 477.50,490.90 477.50,500.40 468.00,500.40" fill="none" stroke="#000" stroke-width="1" />
<polyline points="468.00,486.50 474.00,486.50 474.00,490.90" fill="none" stroke="#000" stroke-width="1" />
<rect x="675.10" y="499.20" width="7.90" height="1.00" fill="#000" />
<rect x="675.10" y="492.00" width="7.90" height="1.00" fill="#000" />
<rect x="675.00" y="485.00" width="1.70" height="17.80" fill="#000" />
<rect x="671.30" y="485.00" width="2.80" height="16.80" fill="#000" />
<polyline points="671.10,490.40 668.60,490.40 668.60,492.90 665.10,492.90 665.10,488.40" fill="none" stroke="#000" stroke-width="1" />
<polyline points="665.10,490.90 661.60,490.90 661.60,500.40 671.10,500.40" fill="none" stroke="#000" stroke-width="1" />
<polyline points="671.10,486.50 665.10,486.50 665.10,490.90" fill="none" stroke="#000" stroke-width="1" />
<rect x="482.00" y="488.00" width="174.50" height="13.00" fill="#000" />
<rect x="481.00" y="494.00" width="1.00" height="7.00" fill="#000" />
<rect x="484.90" y="495.00" width="4.50" height="5.00" fill="#fff" />
<rect x="486.55" y="489.00" width="1.20" height="4.00" fill="#fff" />
<rect x="490.79" y="495.00" width="4.50" height="5.00" fill="#fff" />
<rect x="492.44" y="489.00" width="1.20" height="4.00" fill="#fff" />
<rect x="496.69" y="495.00" width="4.50" height="5.00" fill="#fff" />
<rect x="498.34" y="489.00" width="1.20" height="4.00" fill="#fff" />
<rect x="502.58" y="495.00" width="4.50" height="5.00" fill="#fff" />
<rect x="504.23" y="489.00" width="1.20" height="4.00" fill="#fff" />
<rect x="508.48" y="495.00" width="4.50" height="5.00" fill="#fff" />
<rect x="510.13" y="489.00" width="1.20" height="4.00" fill="#fff" />
<rect x="514.38" y="495.00" width="4.50" height="5.00" fill="#fff" />
<rect x="516.02" y="489.00" width="1.20" height="4.00" fill="#fff" />
<rect x="520.27" y="495.00" width="4.50" height="5.00" fill="#fff" />
<rect x="521.92" y="489.00" width="1.20" height="4.00" fill="#fff" />
<rect x="526.16" y="495.00" width="4.50" height="5.00" fill="#fff" />
<rect x="527.81" y="489.00" width="1.20" height="4.00" fill="#fff" />
<rect x="532.06" y="495.00" width="4.50" height="5.00" fill="#fff" />
<rect x="533.71" y="489.00" width="1.20" height="4.00" fill="#fff" />
<rect x="537.95" y="495.00" width="4.50" height="5.00" fill="#fff" />
<rect x="539.60" y="489.00" width="1.20" height="4.00" fill="#fff" />
<rect x="543.85" y="495.00" width="4.50" height="5.00" fill="#fff" />
<rect x="545.50" y="489.00" width="1.20" height="4.00" fill="#fff" />
<rect x="549.75" y="495.00" width="4.50" height="5.00" fill="#fff" />
<rect x="551.39" y="489.00" width="1.20" height="4.00" fill="#fff" />
<rect x="555.64" y="495.00" width="4.50" height="5.00" fill="#fff" />
<rect x="557.29" y="489.00" width="1.20" height="4.00" fill="#fff" />
<rect x="561.53" y="495.00" width="4.50" height="5.00" fill="#fff" />
<rect x="563.18" y="489.00" width="1.20" height="4.00" fill="#fff" />
<rect x="567.43" y="495.00" width="4.50" height="5.00" fill="#fff" />
<rect x="569.08" y="489.00" width="1.20" height="4.00" fill="#fff" />
<rect x="573.32" y="495.00" width="4.50" height="5.00" fill="#fff" />
<rect x="574.97" y="489.00" width="1.20" height="4.00" fill="#fff" />
<rect x="579.22" y="495.00" width="4.50" height="5.00" fill="#fff" />
<rect x="580.87" y="489.00" width="1.20" height="4.00" fill="#fff" />
<rect x="585.12" y="495.00" width="4.50" height="5.00" fill="#fff" />
<rect x="586.76" y="489.00" width="1.20" height="4.00" fill="#fff" />
<rect x="591.01" y="495.00" width="4.50" height="5.00" fill="#fff" />
<rect x="592.66" y="489.00" width="1.20" height="4.00" fill="#fff" />
<rect x="596.90" y="495.00" width="4.50" height="5.00" fill="#fff" />
<rect x="598.55" y="489.00" width="1.20" height="4.00" fill="#fff" />
<rect x="602.80" y="495.00" width="4.50" height="5.00" fill="#fff" />
<rect x="604.45" y="489.00" width="1.20" height="4.00" fill="#fff" />
<rect x="608.69" y="495.00" width="4.50" height="5.00" fill="#fff" />
<rect x="610.34" y="489.00" width="1.20" height="4.00" fill="#fff" />
<rect x="614.59" y="495.00" width="4.50" height="5.00" fill="#fff" />
<rect x="616.24" y="489.00" width="1.20" height="4.00" fill="#fff" />
<rect x="620.48" y="495.00" width="4.50" height="5.00" fill="#fff" />
<rect x="622.13" y="489.00" width="1.20" height="4.00" fill="#fff" />
<rect x="626.38" y="495.00" width="4.50" height="5.00" fill="#fff" />
<rect x="628.03" y="489.00" width="1.20" height="4.00" fill="#fff" />
<rect x="632.27" y="495.00" width="4.50" height="5.00" fill="#fff" />
<rect x="633.92" y="489.00" width="1.20" height="4.00" fill="#fff" />
<rect x="638.17" y="495.00" width="4.50" height="5.00" fill="#fff" />
<rect x="639.82" y="489.00" width="1.20" height="4.00" fill="#fff" />
<rect x="644.06" y="495.00" width="4.50" height="5.00" fill="#fff" />
<rect x="645.71" y="489.00" width="1.20" height="4.00" fill="#fff" />
<rect x="649.96" y="495.00" width="4.50" height="5.00" fill="#fff" />
<rect x="651.61" y="489.00" width="1.20" height="4.00" fill="#fff" />
<rect x="482.00" y="495.00" width="1.00" height="5.00" fill="#fff" />
<rect x="717.00" y="371.00" width="43.00" height="125.50" fill="#000" />
<line x1="757.6" y1="373.9" x2="757.6" y2="495.5" stroke="#fff" stroke-width="1.4" stroke-dasharray="3.3 2.98"/>
<polygon points="732.50,496.50 734.00,494.80 743.00,494.80 744.50,496.50" fill="#fff" />
<rect x="723.9" y="426.9" width="29.1" height="14.1" rx="2.5" fill="#fff"/>
<path d="M727.50 428.50 L727.50 437.50 M732.35 428.50 L727.50 434.12 M729.44 432.10 L732.35 437.50 M736.66 428.50 L736.66 437.50 M736.66 428.50 L739.90 428.50 L740.98 429.62 L740.98 431.88 L739.90 433.00 L736.66 433.00 M739.90 433.00 L740.98 434.12 L740.98 436.38 L739.90 437.50 L736.66 437.50 M745.29 428.50 L745.29 437.50 M745.29 428.50 L747.98 428.50 L749.60 430.19 L749.60 435.81 L747.98 437.50 L745.29 437.50" fill="none" stroke="#000" stroke-width="1.15" stroke-linecap="square" stroke-linejoin="miter" shape-rendering="geometricPrecision"/>
<rect x="768.00" y="377.00" width="24.20" height="111.80" fill="#000" />
<rect x="769.00" y="378.00" width="22.40" height="109.80" fill="#fff" />
<rect x="771.20" y="382.20" width="7.00" height="7.20" fill="#000" />
<rect x="772.20" y="383.20" width="5.00" height="5.20" fill="#fff" />
<rect x="771.20" y="392.10" width="7.00" height="7.20" fill="#000" />
<rect x="772.20" y="393.10" width="5.00" height="5.20" fill="#fff" />
<rect x="771.20" y="402.20" width="7.00" height="7.20" fill="#000" />
<rect x="772.20" y="403.20" width="5.00" height="5.20" fill="#fff" />
<rect x="771.20" y="411.10" width="7.00" height="7.20" fill="#000" />
<rect x="772.20" y="412.10" width="5.00" height="5.20" fill="#fff" />
<rect x="771.20" y="420.20" width="7.00" height="7.20" fill="#000" />
<rect x="772.20" y="421.20" width="5.00" height="5.20" fill="#fff" />
<rect x="771.20" y="429.40" width="7.00" height="7.20" fill="#000" />
<rect x="772.20" y="430.40" width="5.00" height="5.20" fill="#fff" />
<rect x="771.20" y="438.50" width="7.00" height="7.20" fill="#000" />
<rect x="772.20" y="439.50" width="5.00" height="5.20" fill="#fff" />
<rect x="771.20" y="448.20" width="7.00" height="7.20" fill="#000" />
<rect x="772.20" y="449.20" width="5.00" height="5.20" fill="#fff" />
<rect x="771.20" y="457.20" width="7.00" height="7.20" fill="#000" />
<rect x="772.20" y="458.20" width="5.00" height="5.20" fill="#fff" />
<rect x="771.20" y="466.30" width="7.00" height="7.20" fill="#000" />
<rect x="772.20" y="467.30" width="5.00" height="5.20" fill="#fff" />
<rect x="771.20" y="475.90" width="7.00" height="7.20" fill="#000" />
<rect x="772.20" y="476.90" width="5.00" height="5.20" fill="#fff" />
<rect x="783.00" y="377.00" width="1.00" height="111.80" fill="#000" />
<rect x="779.20" y="378.50" width="3.00" height="6.80" fill="#000" />
<rect x="780.20" y="379.50" width="1.00" height="1.00" fill="#fff" />
<rect x="780.20" y="381.40" width="1.00" height="1.00" fill="#fff" />
<rect x="780.20" y="383.30" width="1.00" height="1.00" fill="#fff" />
<rect x="784.00" y="380.30" width="5.00" height="3.20" fill="#000" />
<rect x="786.00" y="378.80" width="2.40" height="6.30" fill="#000" />
<rect x="779.20" y="387.74" width="3.00" height="6.80" fill="#000" />
<rect x="780.20" y="388.74" width="1.00" height="1.00" fill="#fff" />
<rect x="780.20" y="390.64" width="1.00" height="1.00" fill="#fff" />
<rect x="780.20" y="392.54" width="1.00" height="1.00" fill="#fff" />
<rect x="784.00" y="389.54" width="5.00" height="3.20" fill="#000" />
<rect x="786.00" y="388.04" width="2.40" height="6.30" fill="#000" />
<rect x="779.20" y="396.98" width="3.00" height="6.80" fill="#000" />
<rect x="780.20" y="397.98" width="1.00" height="1.00" fill="#fff" />
<rect x="780.20" y="399.88" width="1.00" height="1.00" fill="#fff" />
<rect x="780.20" y="401.78" width="1.00" height="1.00" fill="#fff" />
<rect x="784.00" y="398.78" width="5.00" height="3.20" fill="#000" />
<rect x="786.00" y="397.28" width="2.40" height="6.30" fill="#000" />
<rect x="779.20" y="406.22" width="3.00" height="6.80" fill="#000" />
<rect x="780.20" y="407.22" width="1.00" height="1.00" fill="#fff" />
<rect x="780.20" y="409.12" width="1.00" height="1.00" fill="#fff" />
<rect x="780.20" y="411.02" width="1.00" height="1.00" fill="#fff" />
<rect x="784.00" y="408.02" width="5.00" height="3.20" fill="#000" />
<rect x="786.00" y="406.52" width="2.40" height="6.30" fill="#000" />
<rect x="779.20" y="415.46" width="3.00" height="6.80" fill="#000" />
<rect x="780.20" y="416.46" width="1.00" height="1.00" fill="#fff" />
<rect x="780.20" y="418.36" width="1.00" height="1.00" fill="#fff" />
<rect x="780.20" y="420.26" width="1.00" height="1.00" fill="#fff" />
<rect x="784.00" y="417.26" width="5.00" height="3.20" fill="#000" />
<rect x="786.00" y="415.76" width="2.40" height="6.30" fill="#000" />
<rect x="779.20" y="424.70" width="3.00" height="6.80" fill="#000" />
<rect x="780.20" y="425.70" width="1.00" height="1.00" fill="#fff" />
<rect x="780.20" y="427.60" width="1.00" height="1.00" fill="#fff" />
<rect x="780.20" y="429.50" width="1.00" height="1.00" fill="#fff" />
<rect x="784.00" y="426.50" width="5.00" height="3.20" fill="#000" />
<rect x="786.00" y="425.00" width="2.40" height="6.30" fill="#000" />
<rect x="779.20" y="433.94" width="3.00" height="6.80" fill="#000" />
<rect x="780.20" y="434.94" width="1.00" height="1.00" fill="#fff" />
<rect x="780.20" y="436.84" width="1.00" height="1.00" fill="#fff" />
<rect x="780.20" y="438.74" width="1.00" height="1.00" fill="#fff" />
<rect x="784.00" y="435.74" width="5.00" height="3.20" fill="#000" />
<rect x="786.00" y="434.24" width="2.40" height="6.30" fill="#000" />
<rect x="779.20" y="443.18" width="3.00" height="6.80" fill="#000" />
<rect x="780.20" y="444.18" width="1.00" height="1.00" fill="#fff" />
<rect x="780.20" y="446.08" width="1.00" height="1.00" fill="#fff" />
<rect x="780.20" y="447.98" width="1.00" height="1.00" fill="#fff" />
<rect x="784.00" y="444.98" width="5.00" height="3.20" fill="#000" />
<rect x="786.00" y="443.48" width="2.40" height="6.30" fill="#000" />
<rect x="779.20" y="452.42" width="3.00" height="6.80" fill="#000" />
<rect x="780.20" y="453.42" width="1.00" height="1.00" fill="#fff" />
<rect x="780.20" y="455.32" width="1.00" height="1.00" fill="#fff" />
<rect x="780.20" y="457.22" width="1.00" height="1.00" fill="#fff" />
<rect x="784.00" y="454.22" width="5.00" height="3.20" fill="#000" />
<rect x="786.00" y="452.72" width="2.40" height="6.30" fill="#000" />
<rect x="779.20" y="461.66" width="3.00" height="6.80" fill="#000" />
<rect x="780.20" y="462.66" width="1.00" height="1.00" fill="#fff" />
<rect x="780.20" y="464.56" width="1.00" height="1.00" fill="#fff" />
<rect x="780.20" y="466.46" width="1.00" height="1.00" fill="#fff" />
<rect x="784.00" y="463.46" width="5.00" height="3.20" fill="#000" />
<rect x="786.00" y="461.96" width="2.40" height="6.30" fill="#000" />
<rect x="779.20" y="470.90" width="3.00" height="6.80" fill="#000" />
<rect x="780.20" y="471.90" width="1.00" height="1.00" fill="#fff" />
<rect x="780.20" y="473.80" width="1.00" height="1.00" fill="#fff" />
<rect x="780.20" y="475.70" width="1.00" height="1.00" fill="#fff" />
<rect x="784.00" y="472.70" width="5.00" height="3.20" fill="#000" />
<rect x="786.00" y="471.20" width="2.40" height="6.30" fill="#000" />
<rect x="779.20" y="480.14" width="3.00" height="6.80" fill="#000" />
<rect x="780.20" y="481.14" width="1.00" height="1.00" fill="#fff" />
<rect x="780.20" y="483.04" width="1.00" height="1.00" fill="#fff" />
<rect x="780.20" y="484.94" width="1.00" height="1.00" fill="#fff" />
<rect x="784.00" y="481.94" width="5.00" height="3.20" fill="#000" />
<rect x="786.00" y="480.44" width="2.40" height="6.30" fill="#000" />
<polygon points="771.20,378.00 772.20,379.60 773.20,378.20 774.40,379.60 775.40,378.20 776.40,379.60 777.40,378.00" fill="#000" />
<rect x="771.50" y="485.20" width="6.50" height="1.00" fill="#000" />
<polygon points="773.00,487.80 774.50,486.00 776.00,487.80" fill="#000" />
<rect x="800.00" y="422.00" width="30.00" height="36.50" fill="#000" />
<rect x="823.50" y="418.00" width="6.50" height="46.50" fill="#000" />
<rect x="826.50" y="415.00" width="3.50" height="51.00" fill="#000" />
<rect x="793.20" y="430.80" width="4.80" height="9.20" fill="#000" />
<rect x="794.20" y="431.80" width="3.00" height="7.20" fill="#fff" />
<rect x="793.20" y="442.00" width="4.80" height="9.50" fill="#000" />
<rect x="794.20" y="443.00" width="3.00" height="7.50" fill="#fff" />
<rect x="797.20" y="429.00" width="2.80" height="24.00" fill="#000" />
<rect x="798.20" y="431.50" width="1.20" height="1.00" fill="#fff" />
<rect x="798.20" y="433.50" width="1.20" height="1.00" fill="#fff" />
<rect x="798.20" y="435.50" width="1.20" height="1.00" fill="#fff" />
<rect x="798.20" y="443.50" width="1.20" height="1.00" fill="#fff" />
<rect x="798.20" y="445.50" width="1.20" height="1.00" fill="#fff" />
<rect x="798.20" y="447.50" width="1.20" height="1.00" fill="#fff" />
<rect x="7.20" y="35.10" width="35.60" height="18.30" rx="4" ry="4" fill="#000"/>
<polygon points="40.00,48.30 42.00,48.30 54.38,45.05 58.50,45.05 58.50,42.95 54.38,42.95 42.00,39.70 40.00,39.70" fill="#000" />
<rect x="9.20" y="36.10" width="31.60" height="15.30" rx="2.5" ry="2.5" fill="#fff"/>
<polygon points="39.00,46.20 42.50,46.20 50.25,44.00 42.50,41.80 39.00,41.80" fill="#fff" />
<path d="M18.23 38.70 L18.23 45.04 L17.16 46.50 L15.87 46.50 L14.80 45.04 M22.31 40.96 L24.45 39.58 L24.45 46.50 M27.67 40.44 L28.75 39.58 L31.43 39.58 L32.50 40.44 L32.50 42.17 L31.43 43.04 L29.60 43.04 M31.43 43.04 L32.50 43.90 L32.50 45.63 L31.43 46.50 L28.75 46.50 L27.67 45.63" fill="none" stroke="#000" stroke-width="1.15" stroke-linecap="square" stroke-linejoin="miter" shape-rendering="geometricPrecision"/>
<rect x="7.20" y="68.60" width="35.60" height="17.90" rx="4" ry="4" fill="#000"/>
<polygon points="40.00,81.80 42.00,81.80 54.38,78.55 58.50,78.55 58.50,76.45 54.38,76.45 42.00,73.20 40.00,73.20" fill="#000" />
<rect x="9.20" y="69.60" width="31.60" height="14.90" rx="2.5" ry="2.5" fill="#fff"/>
<polygon points="39.00,79.70 42.50,79.70 50.25,77.50 42.50,75.30 39.00,75.30" fill="#fff" />
<path d="M18.33 72.00 L18.33 78.50 L17.23 80.00 L15.90 80.00 L14.80 78.50 M22.52 74.32 L24.73 72.90 L24.73 80.00 M28.04 74.23 L29.14 72.90 L31.90 72.90 L33.00 74.05 L33.00 75.56 L28.04 80.00 L33.00 80.00" fill="none" stroke="#000" stroke-width="1.15" stroke-linecap="square" stroke-linejoin="miter" shape-rendering="geometricPrecision"/>
<rect x="7.30" y="101.30" width="34.70" height="18.20" rx="4" ry="4" fill="#000"/>
<polygon points="39.00,114.30 41.00,114.30 54.12,111.05 58.50,111.05 58.50,108.95 54.12,108.95 41.00,105.70 39.00,105.70" fill="#000" />
<rect x="9.30" y="102.30" width="30.70" height="15.20" rx="2.5" ry="2.5" fill="#fff"/>
<polygon points="38.00,112.20 41.50,112.20 49.75,110.00 41.50,107.80 38.00,107.80" fill="#fff" />
<path d="M18.10 105.50 L18.10 111.84 L16.94 113.30 L15.56 113.30 L14.40 111.84 M22.49 107.76 L24.80 106.38 L24.80 113.30 M29.19 107.76 L31.50 106.38 L31.50 113.30" fill="none" stroke="#000" stroke-width="1.15" stroke-linecap="square" stroke-linejoin="miter" shape-rendering="geometricPrecision"/>
<rect x="8.20" y="132.40" width="35.00" height="17.90" rx="4" ry="4" fill="#000"/>
<polygon points="40.50,145.30 42.50,145.30 56.00,142.05 60.50,142.05 60.50,139.95 56.00,139.95 42.50,136.70 40.50,136.70" fill="#000" />
<rect x="10.20" y="133.40" width="31.00" height="14.90" rx="2.5" ry="2.5" fill="#fff"/>
<polygon points="39.50,143.20 43.00,143.20 51.50,141.00 43.00,138.80 39.50,138.80" fill="#fff" />
<path d="M19.24 136.30 L19.24 142.88 L18.04 144.40 L16.60 144.40 L15.40 142.88 M23.80 138.65 L26.20 137.21 L26.20 144.40 M31.48 137.21 L32.92 137.21 L34.60 139.19 L34.60 142.42 L32.92 144.40 L31.48 144.40 L29.80 142.42 L29.80 139.19 L31.48 137.21" fill="none" stroke="#000" stroke-width="1.15" stroke-linecap="square" stroke-linejoin="miter" shape-rendering="geometricPrecision"/>
<rect x="19.20" y="155.50" width="24.00" height="17.50" rx="4" ry="4" fill="#000"/>
<polygon points="40.50,168.30 42.50,168.30 56.00,165.05 60.50,165.05 60.50,162.95 56.00,162.95 42.50,159.70 40.50,159.70" fill="#000" />
<rect x="21.20" y="156.50" width="20.00" height="14.50" rx="2.5" ry="2.5" fill="#fff"/>
<polygon points="39.50,166.20 43.00,166.20 51.50,164.00 43.00,161.80 39.50,161.80" fill="#fff" />
<path d="M28.72 159.00 L28.72 165.58 L27.68 167.10 L26.44 167.10 L25.40 165.58 M36.50 162.79 L35.26 163.87 L33.08 163.87 L31.83 162.79 L31.83 161.08 L33.08 159.91 L35.26 159.91 L36.50 161.08 L36.50 165.75 L35.26 167.10 L33.08 167.10 L31.83 166.02" fill="none" stroke="#000" stroke-width="1.15" stroke-linecap="square" stroke-linejoin="miter" shape-rendering="geometricPrecision"/>
<rect x="58.40" y="28.80" width="6.60" height="31.00" fill="#000" />
<rect x="59.20" y="34.50" width="5.20" height="1.00" fill="#fff" />
<rect x="59.20" y="40.50" width="5.20" height="1.00" fill="#fff" />
<rect x="59.20" y="46.50" width="5.20" height="1.00" fill="#fff" />
<rect x="59.20" y="52.50" width="5.20" height="1.00" fill="#fff" />
<rect x="60.40" y="54.80" width="2.60" height="3.50" fill="#fff" />
<rect x="61.40" y="55.80" width="0.60" height="1.50" fill="#000" />
<rect x="58.40" y="65.00" width="6.60" height="24.80" fill="#000" />
<rect x="59.20" y="66.50" width="5.20" height="1.00" fill="#fff" />
<rect x="59.20" y="71.50" width="5.20" height="1.00" fill="#fff" />
<rect x="59.20" y="77.00" width="5.20" height="1.00" fill="#fff" />
<rect x="59.20" y="82.50" width="5.20" height="1.00" fill="#fff" />
<rect x="60.40" y="84.80" width="2.60" height="3.50" fill="#fff" />
<rect x="61.40" y="85.80" width="0.60" height="1.50" fill="#000" />
<rect x="58.10" y="102.90" width="6.80" height="13.00" fill="#000" />
<rect x="59.20" y="104.00" width="1.00" height="11.00" fill="#fff" />
<rect x="59.20" y="109.00" width="4.80" height="1.00" fill="#fff" />
<rect x="59.20" y="114.00" width="4.80" height="1.00" fill="#fff" />
<rect x="60.00" y="134.90" width="7.10" height="12.80" fill="#000" />
<rect x="60.80" y="136.30" width="5.70" height="1.00" fill="#fff" />
<rect x="60.80" y="141.20" width="5.70" height="1.00" fill="#fff" />
<rect x="60.00" y="157.00" width="7.10" height="14.00" fill="#000" />
<rect x="60.80" y="158.40" width="5.70" height="1.00" fill="#fff" />
<rect x="60.80" y="164.20" width="5.70" height="1.00" fill="#fff" />
<rect x="60.80" y="169.20" width="5.70" height="1.00" fill="#fff" />
<rect x="808.00" y="77.00" width="14.00" height="7.20" fill="#fff" stroke="#000" stroke-width="1"/>
<rect x="809.50" y="79.00" width="5.00" height="3.50" fill="#000" />
<rect x="815.50" y="79.00" width="3.50" height="3.50" fill="#000" />
<rect x="836.70" y="72.40" width="34.80" height="16.90" rx="4" ry="4" fill="#000"/>
<polygon points="840.00,76.20 838.00,76.20 826.00,79.45 822.00,79.45 822.00,81.55 826.00,81.55 838.00,84.80 840.00,84.80" fill="#000" />
<rect x="838.70" y="74.40" width="30.80" height="12.90" rx="2.5" ry="2.5" fill="#fff"/>
<polygon points="841.00,78.30 837.50,78.30 830.00,80.50 837.50,82.70 841.00,82.70" fill="#fff" />
<path d="M847.55 76.60 L847.55 83.02 L846.41 84.50 L845.04 84.50 L843.90 83.02 M851.88 78.89 L854.15 77.49 L854.15 84.50 M859.05 77.49 L861.22 77.49 L862.47 78.45 L862.47 79.86 L861.22 80.82 L859.05 80.82 L857.80 79.86 L857.80 78.45 L859.05 77.49 M859.05 80.82 L857.57 81.96 L857.57 83.36 L859.05 84.50 L861.22 84.50 L862.70 83.36 L862.70 81.96 L861.22 80.82" fill="none" stroke="#000" stroke-width="1.15" stroke-linecap="square" stroke-linejoin="miter" shape-rendering="geometricPrecision"/>
<rect x="802.00" y="166.00" width="26.00" height="6.60" fill="#fff" stroke="#000" stroke-width="1"/>
<rect x="803.50" y="167.50" width="5.00" height="4.00" fill="#000" />
<rect x="809.50" y="167.50" width="5.00" height="4.00" fill="#000" />
<rect x="815.50" y="167.50" width="5.00" height="4.00" fill="#000" />
<rect x="822.50" y="168.00" width="3.00" height="2.50" fill="#fff" stroke="#000" stroke-width="1"/>
<rect x="821.00" y="140.50" width="33.70" height="17.50" rx="4" ry="4" fill="#000"/>
<polygon points="822.14,151.70 820.84,153.22 815.95,162.69 813.70,165.32 815.30,166.68 817.55,164.06 826.16,157.78 827.46,156.26" fill="#000" />
<rect x="823.00" y="142.50" width="29.70" height="13.50" rx="2.5" ry="2.5" fill="#fff"/>
<polygon points="824.39,152.31 822.11,154.97 819.00,160.75 824.24,156.79 826.52,154.13" fill="#fff" />
<path d="M829.59 144.00 L829.59 150.50 L828.47 152.00 L827.12 152.00 L826.00 150.50 M833.85 146.32 L836.09 144.90 L836.09 152.00 M843.38 152.00 L843.38 144.90 L839.45 149.87 L844.50 149.87" fill="none" stroke="#000" stroke-width="1.15" stroke-linecap="square" stroke-linejoin="miter" shape-rendering="geometricPrecision"/>
<rect x="202.00" y="138.00" width="7.00" height="19.00" fill="#000" />
<rect x="207.20" y="139.00" width="0.80" height="17.00" fill="#fff" />
<rect x="203.00" y="143.80" width="4.60" height="0.90" fill="#fff" />
<rect x="203.00" y="149.80" width="4.60" height="0.90" fill="#fff" />
<rect x="203.00" y="155.20" width="4.60" height="0.90" fill="#fff" />
<rect x="203.00" y="150.00" width="0.80" height="6.00" fill="#fff" />
<rect x="204.60" y="152.00" width="1.40" height="1.60" fill="#fff" />
<rect x="211.00" y="138.00" width="7.00" height="14.00" fill="#000" />
<rect x="216.00" y="139.00" width="0.90" height="12.00" fill="#fff" />
<rect x="212.30" y="139.00" width="4.20" height="0.90" fill="#fff" />
<rect x="212.30" y="144.10" width="4.20" height="0.90" fill="#fff" />
<rect x="212.30" y="150.00" width="4.20" height="0.90" fill="#fff" />
<rect x="212.40" y="112.30" width="33.40" height="18.20" rx="4" ry="4" fill="#000"/>
<polygon points="215.05,125.17 213.62,126.56 211.88,129.92 204.16,137.42 206.24,139.58 213.97,132.08 217.38,130.44 218.82,129.04" fill="#000" />
<rect x="214.40" y="114.30" width="29.40" height="14.20" rx="2.5" ry="2.5" fill="#fff"/>
<polygon points="217.23,125.98 214.72,128.42 212.41,131.50 215.56,129.28 218.07,126.84" fill="#fff" />
<path d="M217.00 116.90 L219.15 124.70 L221.30 116.90 M220.76 116.90 L222.91 124.70 L225.05 116.90 M230.42 119.16 L232.57 117.78 L232.57 124.70 M236.65 119.16 L238.80 117.78 L238.80 124.70" fill="none" stroke="#000" stroke-width="1.15" stroke-linecap="square" stroke-linejoin="miter" shape-rendering="geometricPrecision"/>
<rect x="233.20" y="136.10" width="35.40" height="18.20" rx="4" ry="4" fill="#000"/>
<polygon points="236.50,140.70 234.50,140.70 222.12,143.95 218.00,143.95 218.00,146.05 222.12,146.05 234.50,149.30 236.50,149.30" fill="#000" />
<rect x="235.20" y="138.10" width="31.40" height="14.20" rx="2.5" ry="2.5" fill="#fff"/>
<polygon points="237.50,142.80 234.00,142.80 226.25,145.00 234.00,147.20 237.50,147.20" fill="#fff" />
<path d="M237.80 140.40 L240.05 148.50 L242.30 140.40 M241.74 140.40 L243.99 148.50 L246.24 140.40 M251.87 142.75 L254.12 141.31 L254.12 148.50 M259.07 141.31 L260.42 141.31 L262.00 143.29 L262.00 146.52 L260.42 148.50 L259.07 148.50 L257.50 146.52 L257.50 143.29 L259.07 141.31" fill="none" stroke="#000" stroke-width="1.15" stroke-linecap="square" stroke-linejoin="miter" shape-rendering="geometricPrecision"/>
<rect x="148.30" y="188.90" width="34.00" height="16.10" rx="1" ry="1" fill="#000"/>
<polygon points="180.86,194.76 182.30,193.37 189.28,183.47 190.23,182.55 188.77,181.05 187.82,181.97 177.70,188.63 176.27,190.02" fill="#000" />
<rect x="150.90" y="190.90" width="30.40" height="14.10" rx="0.5" ry="0.5" fill="#fff"/>
<polygon points="178.68,193.95 181.19,191.51 184.75,186.40 179.52,189.79 177.01,192.22" fill="#fff" />
<path d="M153.50 193.60 L155.59 201.10 L157.68 193.60 M157.16 193.60 L159.25 201.10 L161.34 193.60 M166.57 195.78 L168.66 194.44 L168.66 201.10 M171.80 195.69 L172.84 194.44 L175.45 194.44 L176.50 195.53 L176.50 196.94 L171.80 201.10 L176.50 201.10" fill="none" stroke="#000" stroke-width="1.15" stroke-linecap="square" stroke-linejoin="miter" shape-rendering="geometricPrecision"/>
<rect x="252.20" y="161.90" width="31.10" height="17.50" rx="4" ry="4" fill="#000"/>
<rect x="254.20" y="163.90" width="27.10" height="13.50" rx="2.5" ry="2.5" fill="#fff"/>
<path d="M256.00 166.20 L256.00 171.77 L257.53 174.30 L259.72 174.30 L261.25 171.77 L261.25 166.20 M268.35 174.30 L268.35 167.11 L264.53 172.14 L269.45 172.14 M274.26 167.11 L275.57 167.11 L277.10 169.09 L277.10 172.32 L275.57 174.30 L274.26 174.30 L272.73 172.32 L272.73 169.09 L274.26 167.11" fill="none" stroke="#000" stroke-width="1.15" stroke-linecap="square" stroke-linejoin="miter" shape-rendering="geometricPrecision"/>
<rect x="242.60" y="196.80" width="30.80" height="17.60" rx="2.5" ry="2.5" fill="#000"/>
<rect x="243.90" y="198.10" width="28.20" height="15.00" rx="1.0" ry="1.0" fill="#fff"/>
<path d="M246.40 200.40 L246.40 206.31 L247.82 209.00 L249.85 209.00 L251.27 206.31 L251.27 200.40 M254.32 202.32 L255.33 201.37 L257.87 201.37 L258.89 202.32 L258.89 204.23 L257.87 205.18 L256.15 205.18 M257.87 205.18 L258.89 206.14 L258.89 208.05 L257.87 209.00 L255.33 209.00 L254.32 208.05 M266.50 204.42 L265.28 205.57 L263.15 205.57 L261.93 204.42 L261.93 202.61 L263.15 201.37 L265.28 201.37 L266.50 202.61 L266.50 207.57 L265.28 209.00 L263.15 209.00 L261.93 207.86" fill="none" stroke="#000" stroke-width="1.15" stroke-linecap="square" stroke-linejoin="miter" shape-rendering="geometricPrecision"/>
<rect x="242.60" y="222.80" width="30.80" height="17.60" rx="2.5" ry="2.5" fill="#000"/>
<rect x="243.90" y="224.10" width="28.20" height="15.00" rx="1.0" ry="1.0" fill="#fff"/>
<path d="M246.40 226.30 L246.40 232.21 L247.82 234.90 L249.85 234.90 L251.27 232.21 L251.27 226.30 M254.32 228.22 L255.33 227.27 L257.87 227.27 L258.89 228.22 L258.89 230.13 L257.87 231.08 L256.15 231.08 M257.87 231.08 L258.89 232.04 L258.89 233.95 L257.87 234.90 L255.33 234.90 L254.32 233.95 M263.25 227.27 L265.18 227.27 L266.30 228.32 L266.30 229.84 L265.18 230.89 L263.25 230.89 L262.13 229.84 L262.13 228.32 L263.25 227.27 M263.25 230.89 L261.93 232.13 L261.93 233.66 L263.25 234.90 L265.18 234.90 L266.50 233.66 L266.50 232.13 L265.18 230.89" fill="none" stroke="#000" stroke-width="1.15" stroke-linecap="square" stroke-linejoin="miter" shape-rendering="geometricPrecision"/>
<rect x="315.80" y="233.00" width="34.20" height="18.90" rx="4" ry="4" fill="#000"/>
<polygon points="328.50,248.50 328.50,250.50 331.35,267.15 331.35,269.00 333.45,269.00 333.45,267.15 336.30,250.50 336.30,248.50" fill="#000" />
<rect x="318.30" y="235.50" width="30.20" height="14.40" rx="2.5" ry="2.5" fill="#fff"/>
<polygon points="330.60,247.50 330.60,251.00 332.40,260.68 334.20,251.00 334.20,247.50" fill="#fff" />
<path d="M326.22 239.25 L325.04 237.60 L322.68 237.60 L321.50 239.25 L321.50 240.90 L322.68 242.00 L325.04 242.00 L326.22 243.10 L326.22 244.75 L325.04 246.40 L322.68 246.40 L321.50 244.75 M330.70 240.15 L333.06 238.59 L333.06 246.40 M341.90 239.76 L340.48 238.59 L338.01 238.59 L336.59 240.05 L336.59 245.13 L338.01 246.40 L340.48 246.40 L341.90 245.23 L341.90 243.28 L340.48 242.10 L338.01 242.10 L336.59 243.28" fill="none" stroke="#000" stroke-width="1.15" stroke-linecap="square" stroke-linejoin="miter" shape-rendering="geometricPrecision"/>
<rect x="316.10" y="346.90" width="33.60" height="18.70" rx="4" ry="4" fill="#000"/>
<polygon points="337.46,350.58 337.50,348.59 335.01,332.05 335.05,330.22 332.95,330.18 332.91,332.01 329.70,348.41 329.66,350.41" fill="#000" />
<rect x="318.60" y="348.40" width="29.60" height="14.70" rx="2.5" ry="2.5" fill="#fff"/>
<polygon points="335.33,351.54 335.41,348.04 333.82,338.44 331.81,347.96 331.73,351.46" fill="#fff" />
<path d="M325.28 352.43 L324.13 350.80 L321.84 350.80 L320.70 352.43 L320.70 354.06 L321.84 355.15 L324.13 355.15 L325.28 356.24 L325.28 357.87 L324.13 359.50 L321.84 359.50 L320.70 357.87 M329.63 353.32 L331.92 351.78 L331.92 359.50 M340.50 351.78 L335.81 351.78 L335.35 355.25 L339.13 354.96 L340.50 356.12 L340.50 358.34 L339.13 359.50 L336.49 359.50 L335.35 358.53" fill="none" stroke="#000" stroke-width="1.15" stroke-linecap="square" stroke-linejoin="miter" shape-rendering="geometricPrecision"/>
<rect x="177.00" y="375.00" width="32.00" height="19.00" fill="#000" />
<rect x="178.50" y="380.80" width="4.60" height="1.00" fill="#fff" />
<rect x="178.50" y="387.20" width="4.60" height="1.00" fill="#fff" />
<rect x="178.50" y="391.80" width="4.60" height="1.00" fill="#fff" />
<rect x="179.90" y="389.00" width="2.00" height="2.00" fill="#fff" />
<rect x="184.90" y="380.80" width="4.60" height="1.00" fill="#fff" />
<rect x="184.90" y="387.20" width="4.60" height="1.00" fill="#fff" />
<rect x="184.90" y="391.80" width="4.60" height="1.00" fill="#fff" />
<rect x="186.30" y="389.00" width="2.00" height="2.00" fill="#fff" />
<rect x="190.90" y="380.80" width="4.60" height="1.00" fill="#fff" />
<rect x="190.90" y="387.20" width="4.60" height="1.00" fill="#fff" />
<rect x="190.90" y="391.80" width="4.60" height="1.00" fill="#fff" />
<rect x="192.30" y="389.00" width="2.00" height="2.00" fill="#fff" />
<rect x="197.60" y="380.80" width="4.60" height="1.00" fill="#fff" />
<rect x="197.60" y="387.20" width="4.60" height="1.00" fill="#fff" />
<rect x="197.60" y="391.80" width="4.60" height="1.00" fill="#fff" />
<rect x="199.00" y="389.00" width="2.00" height="2.00" fill="#fff" />
<rect x="203.40" y="380.80" width="4.60" height="1.00" fill="#fff" />
<rect x="203.40" y="387.20" width="4.60" height="1.00" fill="#fff" />
<rect x="203.40" y="391.80" width="4.60" height="1.00" fill="#fff" />
<rect x="204.80" y="389.00" width="2.00" height="2.00" fill="#fff" />
<rect x="178.00" y="376.20" width="1.00" height="16.60" fill="#fff" />
<rect x="188.90" y="376.20" width="1.00" height="16.60" fill="#fff" />
<rect x="197.10" y="376.20" width="1.00" height="16.60" fill="#fff" />
<rect x="202.90" y="376.20" width="1.00" height="16.60" fill="#fff" />
<rect x="178.10" y="339.90" width="34.00" height="19.20" rx="4" ry="4" fill="#000"/>
<polygon points="189.97,355.35 189.90,357.35 192.57,367.08 192.30,374.96 194.90,375.04 195.17,367.17 198.50,357.65 198.57,355.65" fill="#000" />
<rect x="180.30" y="342.90" width="28.90" height="13.60" rx="2.5" ry="2.5" fill="#fff"/>
<polygon points="192.10,354.43 191.98,357.92 193.90,366.25 196.38,358.08 196.50,354.58" fill="#fff" />
<path d="M182.40 344.80 L184.53 353.40 L186.65 344.80 M186.12 344.80 L188.25 353.40 L190.38 344.80 M195.70 347.29 L197.82 345.77 L197.82 353.40 M205.80 346.91 L204.52 345.77 L202.29 345.77 L201.01 347.20 L201.01 352.16 L202.29 353.40 L204.52 353.40 L205.80 352.26 L205.80 350.35 L204.52 349.20 L202.29 349.20 L201.01 350.35" fill="none" stroke="#000" stroke-width="1.15" stroke-linecap="square" stroke-linejoin="miter" shape-rendering="geometricPrecision"/>
<rect x="143.20" y="348.20" width="34.10" height="18.50" rx="3.8" ry="3.8" fill="#000"/>
<polygon points="171.50,365.65 173.05,366.91 177.83,368.97 186.93,376.32 189.07,373.68 179.97,366.33 176.95,362.09 175.39,360.83" fill="#000" />
<rect x="145.30" y="350.50" width="29.40" height="13.60" rx="2.3" ry="2.3" fill="#fff"/>
<polygon points="172.04,363.39 174.76,365.59 182.80,370.80 176.02,364.04 173.29,361.84" fill="#fff" />
<path d="M147.50 352.20 L149.72 360.30 L151.94 352.20 M151.38 352.20 L153.60 360.30 L155.82 352.20 M161.36 354.55 L163.58 353.11 L163.58 360.30 M166.91 353.11 L171.90 353.11 L168.91 360.30" fill="none" stroke="#000" stroke-width="1.15" stroke-linecap="square" stroke-linejoin="miter" shape-rendering="geometricPrecision"/>
<rect x="224.00" y="374.90" width="36.10" height="18.90" rx="5" ry="5" fill="#000"/>
<polygon points="227.50,380.40 225.50,380.40 213.50,383.65 209.50,383.65 209.50,385.75 213.50,385.75 225.50,389.00 227.50,389.00" fill="#000" />
<rect x="226.30" y="377.20" width="31.50" height="14.30" rx="3.5" ry="3.5" fill="#fff"/>
<polygon points="228.50,382.50 225.00,382.50 217.50,384.70 225.00,386.90 228.50,386.90" fill="#fff" />
<path d="M230.40 378.90 L232.52 387.40 L234.64 378.90 M234.11 378.90 L236.22 387.40 L238.34 378.90 M243.64 381.36 L245.76 379.86 L245.76 387.40 M252.64 387.40 L252.64 379.86 L248.93 385.14 L253.70 385.14" fill="none" stroke="#000" stroke-width="1.15" stroke-linecap="square" stroke-linejoin="miter" shape-rendering="geometricPrecision"/>
<rect x="138.60" y="390.30" width="32.30" height="17.70" rx="1.5" ry="1.5" fill="#000"/>
<polygon points="168.64,396.94 170.13,395.61 175.63,387.41 178.00,385.28 176.60,383.72 174.22,385.84 165.47,390.39 163.98,391.73" fill="#000" />
<rect x="138.60" y="392.10" width="30.30" height="14.20" rx="0.5" ry="0.5" fill="#fff"/>
<polygon points="166.50,396.04 169.11,393.71 172.55,388.75 167.24,391.62 164.63,393.96" fill="#fff" />
<path d="M142.20 394.80 L144.31 402.10 L146.42 394.80 M145.89 394.80 L148.00 402.10 L150.11 394.80 M155.38 396.92 L157.49 395.62 L157.49 402.10 M162.03 395.62 L164.03 395.62 L165.19 396.51 L165.19 397.81 L164.03 398.70 L162.03 398.70 L160.87 397.81 L160.87 396.51 L162.03 395.62 M162.03 398.70 L160.65 399.75 L160.65 401.05 L162.03 402.10 L164.03 402.10 L165.40 401.05 L165.40 399.75 L164.03 398.70" fill="none" stroke="#000" stroke-width="1.15" stroke-linecap="square" stroke-linejoin="miter" shape-rendering="geometricPrecision"/>
<rect x="206.80" y="401.00" width="32.80" height="16.40" rx="1.5" ry="1.5" fill="#000"/>
<polygon points="213.83,402.75 212.35,401.40 202.83,396.10 200.20,393.72 198.80,395.28 201.42,397.65 207.65,406.60 209.13,407.94" fill="#000" />
<rect x="207.80" y="403.30" width="29.80" height="14.10" rx="0.5" ry="0.5" fill="#fff"/>
<polygon points="213.16,404.97 210.57,402.63 204.75,399.25 208.69,404.70 211.29,407.05" fill="#fff" />
<path d="M210.90 406.20 L213.01 414.10 L215.12 406.20 M214.59 406.20 L216.70 414.10 L218.81 406.20 M224.08 408.49 L226.19 407.09 L226.19 414.10 M234.10 407.09 L229.78 407.09 L229.35 410.24 L232.83 409.98 L234.10 411.03 L234.10 413.05 L232.83 414.10 L230.41 414.10 L229.35 413.22" fill="none" stroke="#000" stroke-width="1.15" stroke-linecap="square" stroke-linejoin="miter" shape-rendering="geometricPrecision"/>
<rect x="99.60" y="384.20" width="32.40" height="17.80" rx="4" ry="4" fill="#000"/>
<rect x="100.90" y="385.50" width="29.30" height="14.70" rx="2.5" ry="2.5" fill="#fff"/>
<path d="M104.30 388.20 L104.30 394.52 L105.76 397.40 L107.85 397.40 L109.32 394.52 L109.32 388.20 M116.11 397.40 L116.11 389.24 L112.45 394.95 L117.16 394.95 M121.65 389.24 L123.64 389.24 L124.79 390.36 L124.79 391.99 L123.64 393.11 L121.65 393.11 L120.50 391.99 L120.50 390.36 L121.65 389.24 M121.65 393.11 L120.30 394.44 L120.30 396.07 L121.65 397.40 L123.64 397.40 L125.00 396.07 L125.00 394.44 L123.64 393.11" fill="none" stroke="#000" stroke-width="1.15" stroke-linecap="square" stroke-linejoin="miter" shape-rendering="geometricPrecision"/>
<rect x="138.30" y="428.30" width="48.10" height="15.10" rx="2.5" ry="2.5" fill="#000"/>
<rect x="139.30" y="429.30" width="46.10" height="13.10" rx="1.0" ry="1.0" fill="#fff"/>
<path d="M146.44 432.76 L145.18 431.30 L142.66 431.30 L141.40 432.76 L141.40 437.64 L142.66 439.10 L145.18 439.10 L146.44 437.64 M150.22 439.10 L153.38 431.30 L156.53 439.10 M151.48 436.47 L155.27 436.47 M165.35 432.76 L164.09 431.30 L161.57 431.30 L160.31 432.76 L160.31 437.64 L161.57 439.10 L164.09 439.10 L165.35 437.64 M169.13 431.30 L169.13 439.10 M174.18 431.30 L174.18 439.10 M169.13 435.20 L174.18 435.20 M183.00 431.30 L177.96 431.30 L177.96 439.10 L183.00 439.10 M177.96 435.20 L181.74 435.20" fill="none" stroke="#000" stroke-width="1.15" stroke-linecap="square" stroke-linejoin="miter" shape-rendering="geometricPrecision"/>
<rect x="83.10" y="452.40" width="56.80" height="15.60" rx="1.5" ry="1.5" fill="#000"/>
<rect x="84.10" y="453.40" width="54.80" height="13.60" rx="0.5" ry="0.5" fill="#fff"/>
<path d="M89.10 456.40 L89.10 464.30 M89.10 456.40 L92.63 456.40 L93.81 457.39 L93.81 459.36 L92.63 460.35 L89.10 460.35 M92.63 460.35 L93.81 461.34 L93.81 463.31 L92.63 464.30 L89.10 464.30 M97.34 464.30 L100.28 456.40 L103.23 464.30 M98.52 461.63 L102.05 461.63 M106.76 464.30 L106.76 456.40 L112.06 464.30 L112.06 456.40 M115.59 456.40 L115.59 464.30 M120.89 456.40 L115.59 461.34 M117.71 459.56 L120.89 464.30 M131.25 458.69 L133.60 457.29 L133.60 464.30" fill="none" stroke="#000" stroke-width="1.15" stroke-linecap="square" stroke-linejoin="miter" shape-rendering="geometricPrecision"/>
<rect x="180.50" y="452.40" width="56.80" height="15.60" rx="1.5" ry="1.5" fill="#000"/>
<rect x="181.50" y="453.40" width="54.80" height="13.60" rx="0.5" ry="0.5" fill="#fff"/>
<path d="M186.50 456.40 L186.50 464.30 M186.50 456.40 L189.99 456.40 L191.16 457.39 L191.16 459.36 L189.99 460.35 L186.50 460.35 M189.99 460.35 L191.16 461.34 L191.16 463.31 L189.99 464.30 L186.50 464.30 M194.65 464.30 L197.56 456.40 L200.47 464.30 M195.81 461.63 L199.31 461.63 M203.96 464.30 L203.96 456.40 L209.20 464.30 L209.20 456.40 M212.69 456.40 L212.69 464.30 M217.93 456.40 L212.69 461.34 M214.79 459.56 L217.93 464.30 M228.87 457.29 L230.27 457.29 L231.90 459.22 L231.90 462.37 L230.27 464.30 L228.87 464.30 L227.24 462.37 L227.24 459.22 L228.87 457.29" fill="none" stroke="#000" stroke-width="1.15" stroke-linecap="square" stroke-linejoin="miter" shape-rendering="geometricPrecision"/>
<rect x="538.30" y="376.60" width="59.70" height="16.20" rx="3.5" ry="3.5" fill="#000"/>
<rect x="540.30" y="378.20" width="55.70" height="12.60" rx="2.0" ry="2.0" fill="#fff"/>
<path d="M545.50 379.40 L545.50 388.20 M545.50 379.40 L548.90 379.40 L550.03 380.50 L550.03 382.70 L548.90 383.80 L545.50 383.80 M548.90 383.80 L550.03 384.90 L550.03 387.10 L548.90 388.20 L545.50 388.20 M553.43 388.20 L556.27 379.40 L559.10 388.20 M554.57 385.23 L557.97 385.23 M562.50 388.20 L562.50 379.40 L567.60 388.20 L567.60 379.40 M571.00 379.40 L571.00 388.20 M576.10 379.40 L571.00 384.90 M573.04 382.92 L576.10 388.20 M586.75 380.39 L588.11 380.39 L589.70 382.54 L589.70 386.05 L588.11 388.20 L586.75 388.20 L585.17 386.05 L585.17 382.54 L586.75 380.39" fill="none" stroke="#000" stroke-width="1.15" stroke-linecap="square" stroke-linejoin="miter" shape-rendering="geometricPrecision"/>
<rect x="540.50" y="455.20" width="58.20" height="17.10" rx="2" ry="2" fill="#000"/>
<rect x="541.90" y="456.60" width="55.40" height="14.30" rx="0.5" ry="0.5" fill="#fff"/>
<path d="M546.40 458.70 L546.40 467.10 M546.40 458.70 L549.92 458.70 L551.09 459.75 L551.09 461.85 L549.92 462.90 L546.40 462.90 M549.92 462.90 L551.09 463.95 L551.09 466.05 L549.92 467.10 L546.40 467.10 M554.60 467.10 L557.53 458.70 L560.46 467.10 M555.78 464.26 L559.29 464.26 M563.98 467.10 L563.98 458.70 L569.25 467.10 L569.25 458.70 M572.77 458.70 L572.77 467.10 M578.04 458.70 L572.77 463.95 M574.88 462.06 L578.04 467.10 M588.36 461.14 L590.70 459.64 L590.70 467.10" fill="none" stroke="#000" stroke-width="1.15" stroke-linecap="square" stroke-linejoin="miter" shape-rendering="geometricPrecision"/>
<rect x="688.20" y="490.00" width="6.80" height="13.80" fill="#fff" stroke="#000" stroke-width="1"/>
<rect x="690.00" y="492.00" width="3.50" height="10.00" fill="#000" />
<rect x="691.00" y="496.50" width="3.00" height="1.00" fill="#fff" />
<rect x="671.40" y="454.40" width="41.60" height="18.40" rx="4" ry="4" fill="#000"/>
<polygon points="688.10,469.50 688.10,471.50 691.35,485.00 691.35,489.50 693.45,489.50 693.45,485.00 696.70,471.50 696.70,469.50" fill="#000" />
<rect x="672.40" y="455.90" width="38.60" height="14.90" rx="2.5" ry="2.5" fill="#fff"/>
<polygon points="690.20,468.50 690.20,472.00 692.40,480.50 694.60,472.00 694.60,468.50" fill="#fff" />
<path d="M680.81 458.80 L680.81 465.30 L679.62 466.80 L678.19 466.80 L677.00 465.30 M684.39 466.80 L684.39 458.80 L687.96 458.80 L689.15 459.80 L689.15 462.10 L687.96 463.10 L684.39 463.10 M693.68 461.12 L696.06 459.70 L696.06 466.80 M705.00 459.70 L700.11 459.70 L699.64 462.90 L703.57 462.63 L705.00 463.69 L705.00 465.74 L703.57 466.80 L700.83 466.80 L699.64 465.91" fill="none" stroke="#000" stroke-width="1.15" stroke-linecap="square" stroke-linejoin="miter" shape-rendering="geometricPrecision"/>
<path d="M684.40 43.30 L684.40 35.60 L686.95 40.41 L689.50 35.60 L689.50 43.30" fill="none" stroke="#000" stroke-width="1.7" stroke-linecap="square" stroke-linejoin="miter" shape-rendering="geometricPrecision"/>
<path d="M694.40 35.60 L694.40 43.30 M698.60 35.60 L698.60 43.30 M694.40 39.45 L698.60 39.45" fill="none" stroke="#000" stroke-width="1.3" stroke-linecap="square" stroke-linejoin="miter" shape-rendering="geometricPrecision"/>
<path d="M701.50 37.83 L703.40 36.47 L703.40 43.30" fill="none" stroke="#000" stroke-width="1.15" stroke-linecap="square" stroke-linejoin="miter" shape-rendering="geometricPrecision"/>
<path d="M707.30 37.83 L709.30 36.47 L709.30 43.30" fill="none" stroke="#000" stroke-width="1.15" stroke-linecap="square" stroke-linejoin="miter" shape-rendering="geometricPrecision"/>
<path d="M714.50 37.83 L716.50 36.47 L716.50 43.30" fill="none" stroke="#000" stroke-width="1.15" stroke-linecap="square" stroke-linejoin="miter" shape-rendering="geometricPrecision"/>
<path d="M720.60 37.32 L721.51 36.47 L723.79 36.47 L724.70 37.32 L724.70 39.03 L723.79 39.88 L722.24 39.88 M723.79 39.88 L724.70 40.74 L724.70 42.45 L723.79 43.30 L721.51 43.30 L720.60 42.45" fill="none" stroke="#000" stroke-width="1.15" stroke-linecap="square" stroke-linejoin="miter" shape-rendering="geometricPrecision"/>
</svg>
</body></html>
